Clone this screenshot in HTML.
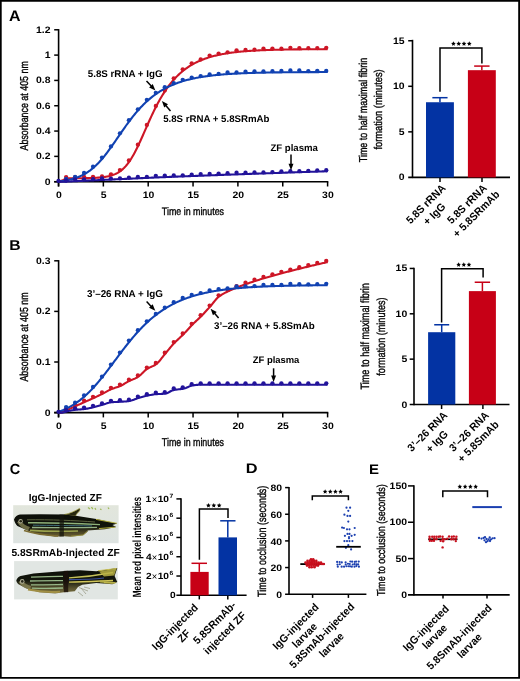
<!DOCTYPE html>
<html><head><meta charset="utf-8"><title>Figure</title>
<style>html,body{margin:0;padding:0;background:#fff;}svg{display:block;will-change:transform;}text{font-family:"Liberation Sans", sans-serif;text-rendering:geometricPrecision;}</style>
</head><body>
<svg width="520" height="681" viewBox="0 0 520 681">
<rect width="520" height="681" fill="#fff"/>
<text transform="translate(9.05,20.7) scale(1.046,1)" font-size="15.27" font-weight="bold" fill="#000" >A</text>
<text transform="translate(9.29,250.1) scale(1.104,1)" font-size="14.25" font-weight="bold" fill="#000" >B</text>
<text transform="translate(9.67,474) scale(0.992,1)" font-size="14.62" font-weight="bold" fill="#000" >C</text>
<text transform="translate(245.85,473.3) scale(1.182,1)" font-size="13.82" font-weight="bold" fill="#000" >D</text>
<text transform="translate(369.04,473.5) scale(1.074,1)" font-size="13.96" font-weight="bold" fill="#000" >E</text>
<line x1="58.6" y1="29.08" x2="58.6" y2="186.5" stroke="#000" stroke-width="1.6" stroke-linecap="butt"/>
<line x1="54.2" y1="181.7" x2="328.3" y2="181.7" stroke="#000" stroke-width="1.6" stroke-linecap="butt"/>
<line x1="54.2" y1="181.7" x2="58.6" y2="181.7" stroke="#000" stroke-width="1.5" stroke-linecap="butt"/>
<line x1="54.2" y1="156.38" x2="58.6" y2="156.38" stroke="#000" stroke-width="1.5" stroke-linecap="butt"/>
<line x1="54.2" y1="131.06" x2="58.6" y2="131.06" stroke="#000" stroke-width="1.5" stroke-linecap="butt"/>
<line x1="54.2" y1="105.74" x2="58.6" y2="105.74" stroke="#000" stroke-width="1.5" stroke-linecap="butt"/>
<line x1="54.2" y1="80.42" x2="58.6" y2="80.42" stroke="#000" stroke-width="1.5" stroke-linecap="butt"/>
<line x1="54.2" y1="55.1" x2="58.6" y2="55.1" stroke="#000" stroke-width="1.5" stroke-linecap="butt"/>
<line x1="54.2" y1="29.78" x2="58.6" y2="29.78" stroke="#000" stroke-width="1.5" stroke-linecap="butt"/>
<line x1="58.5" y1="181.7" x2="58.5" y2="186.5" stroke="#000" stroke-width="1.5" stroke-linecap="butt"/>
<line x1="103.35" y1="181.7" x2="103.35" y2="186.5" stroke="#000" stroke-width="1.5" stroke-linecap="butt"/>
<line x1="148.2" y1="181.7" x2="148.2" y2="186.5" stroke="#000" stroke-width="1.5" stroke-linecap="butt"/>
<line x1="193.05" y1="181.7" x2="193.05" y2="186.5" stroke="#000" stroke-width="1.5" stroke-linecap="butt"/>
<line x1="237.9" y1="181.7" x2="237.9" y2="186.5" stroke="#000" stroke-width="1.5" stroke-linecap="butt"/>
<line x1="282.75" y1="181.7" x2="282.75" y2="186.5" stroke="#000" stroke-width="1.5" stroke-linecap="butt"/>
<line x1="327.6" y1="181.7" x2="327.6" y2="186.5" stroke="#000" stroke-width="1.5" stroke-linecap="butt"/>
<path d="M58.50,181.70 L59.40,181.70 L60.29,181.48 L61.19,180.98 L62.09,180.53 L62.98,180.11 L63.88,179.71 L64.78,179.34 L65.68,178.98 L66.57,178.63 L67.47,178.29 L68.37,178.29 L69.26,178.29 L70.16,178.29 L71.06,178.28 L71.95,178.28 L72.85,178.28 L73.75,178.27 L74.65,178.27 L75.54,178.26 L76.44,178.26 L77.34,178.25 L78.23,178.25 L79.13,178.24 L80.03,178.23 L80.92,178.22 L81.82,178.21 L82.72,178.20 L83.62,178.19 L84.51,178.17 L85.41,178.16 L86.31,178.14 L87.20,178.12 L88.10,178.10 L89.00,178.08 L89.90,178.05 L90.79,178.03 L91.69,178.00 L92.59,177.96 L93.48,177.92 L94.38,177.88 L95.28,177.84 L96.17,177.79 L97.07,177.73 L97.97,177.67 L98.87,177.60 L99.76,177.53 L100.66,177.44 L101.56,177.35 L102.45,177.25 L103.35,177.14 L104.25,177.02 L105.14,176.88 L106.04,176.73 L106.94,176.57 L107.84,176.39 L108.73,176.19 L109.63,175.97 L110.53,175.73 L111.42,175.47 L112.32,175.18 L113.22,174.87 L114.11,174.52 L115.01,174.15 L115.91,173.73 L116.81,173.28 L117.70,172.80 L118.60,172.26 L119.50,171.68 L120.39,171.06 L121.29,170.38 L122.19,169.64 L123.08,168.85 L123.98,168.00 L124.88,167.08 L125.78,166.10 L126.67,165.05 L127.57,163.94 L128.47,162.75 L129.36,161.50 L130.26,160.17 L131.16,158.78 L132.05,157.31 L132.95,155.78 L133.85,154.18 L134.75,152.52 L135.64,150.80 L136.54,149.03 L137.44,147.20 L138.33,145.33 L139.23,143.42 L140.13,141.47 L141.02,139.49 L141.92,137.49 L142.82,135.47 L143.72,133.43 L144.61,131.39 L145.51,129.35 L146.41,127.31 L147.30,125.28 L148.20,123.26 L149.10,121.26 L149.99,119.28 L150.89,117.32 L151.79,115.39 L152.69,113.49 L153.58,111.63 L154.48,109.79 L155.38,108.00 L156.27,106.23 L157.17,104.51 L158.07,102.83 L158.96,101.19 L159.86,99.58 L160.76,98.02 L161.66,96.50 L162.55,95.01 L163.45,93.57 L164.35,92.17 L165.24,90.81 L166.14,89.48 L167.04,88.20 L167.93,86.95 L168.83,85.74 L169.73,84.56 L170.62,83.42 L171.52,82.32 L172.42,81.25 L173.32,80.21 L174.21,79.20 L175.11,78.23 L176.01,77.28 L176.90,76.37 L177.80,75.48 L178.70,74.62 L179.60,73.79 L180.49,72.99 L181.39,72.21 L182.29,71.46 L183.18,70.73 L184.08,70.02 L184.98,69.34 L185.87,68.68 L186.77,68.04 L187.67,67.42 L188.56,66.82 L189.46,66.24 L190.36,65.68 L191.26,65.14 L192.15,64.61 L193.05,64.10 L193.95,63.61 L194.84,63.14 L195.74,62.68 L196.64,62.23 L197.53,61.80 L198.43,61.39 L199.33,60.98 L200.23,60.59 L201.12,60.22 L202.02,59.85 L202.92,59.50 L203.81,59.16 L204.71,58.83 L205.61,58.51 L206.51,58.20 L207.40,57.90 L208.30,57.61 L209.20,57.33 L210.09,57.06 L210.99,56.80 L211.89,56.55 L212.78,56.30 L213.68,56.06 L214.58,55.83 L215.48,55.61 L216.37,55.40 L217.27,55.19 L218.17,54.99 L219.06,54.80 L219.96,54.61 L220.86,54.43 L221.75,54.25 L222.65,54.08 L223.55,53.92 L224.45,53.76 L225.34,53.60 L226.24,53.46 L227.14,53.31 L228.03,53.17 L228.93,53.04 L229.83,52.91 L230.72,52.78 L231.62,52.66 L232.52,52.54 L233.42,52.43 L234.31,52.32 L235.21,52.21 L236.11,52.11 L237.00,52.01 L237.90,51.91 L238.80,51.82 L239.69,51.73 L240.59,51.64 L241.49,51.56 L242.39,51.47 L243.28,51.40 L244.18,51.32 L245.08,51.25 L245.97,51.17 L246.87,51.10 L247.77,51.04 L248.66,50.97 L249.56,50.91 L250.46,50.85 L251.36,50.79 L252.25,50.73 L253.15,50.68 L254.05,50.63 L254.94,50.57 L255.84,50.53 L256.74,50.48 L257.63,50.43 L258.53,50.39 L259.43,50.34 L260.33,50.30 L261.22,50.26 L262.12,50.22 L263.02,50.18 L263.91,50.15 L264.81,50.11 L265.71,50.08 L266.60,50.04 L267.50,50.01 L268.40,49.98 L269.30,49.95 L270.19,49.92 L271.09,49.89 L271.99,49.86 L272.88,49.84 L273.78,49.81 L274.68,49.79 L275.57,49.76 L276.47,49.74 L277.37,49.72 L278.26,49.70 L279.16,49.68 L280.06,49.66 L280.96,49.64 L281.85,49.62 L282.75,49.60 L283.65,49.58 L284.54,49.56 L285.44,49.55 L286.34,49.53 L287.24,49.52 L288.13,49.50 L289.03,49.49 L289.93,49.47 L290.82,49.46 L291.72,49.45 L292.62,49.43 L293.51,49.42 L294.41,49.41 L295.31,49.40 L296.21,49.39 L297.10,49.38 L298.00,49.36 L298.90,49.35 L299.79,49.35 L300.69,49.34 L301.59,49.33 L302.48,49.32 L303.38,49.31 L304.28,49.30 L305.18,49.29 L306.07,49.29 L306.97,49.28 L307.87,49.27 L308.76,49.26 L309.66,49.26 L310.56,49.25 L311.45,49.24 L312.35,49.24 L313.25,49.23 L314.14,49.23 L315.04,49.22 L315.94,49.22 L316.84,49.21 L317.73,49.21 L318.63,49.20 L319.53,49.20 L320.42,49.19 L321.32,49.19 L322.22,49.18 L323.12,49.18 L324.01,49.17 L324.91,49.17 L325.81,49.17 L326.70,49.16 L327.60,49.16" stroke="#cd1626" stroke-width="2.1" fill="none" stroke-linejoin="round"/>
<circle cx="66.12" cy="177.08" r="2.15" fill="#cd1626"/>
<circle cx="75.09" cy="177.25" r="2.15" fill="#cd1626"/>
<circle cx="84.06" cy="176.82" r="2.15" fill="#cd1626"/>
<circle cx="93.03" cy="176.87" r="2.15" fill="#cd1626"/>
<circle cx="102.00" cy="176.48" r="2.15" fill="#cd1626"/>
<circle cx="110.97" cy="174.34" r="2.15" fill="#cd1626"/>
<circle cx="119.94" cy="170.08" r="2.15" fill="#cd1626"/>
<circle cx="128.91" cy="160.41" r="2.15" fill="#cd1626"/>
<circle cx="137.88" cy="144.74" r="2.15" fill="#cd1626"/>
<circle cx="146.85" cy="124.99" r="2.15" fill="#cd1626"/>
<circle cx="155.82" cy="105.99" r="2.15" fill="#cd1626"/>
<circle cx="164.79" cy="90.49" r="2.15" fill="#cd1626"/>
<circle cx="173.76" cy="78.28" r="2.15" fill="#cd1626"/>
<circle cx="182.73" cy="69.36" r="2.15" fill="#cd1626"/>
<circle cx="191.70" cy="63.36" r="2.15" fill="#cd1626"/>
<circle cx="200.67" cy="59.51" r="2.15" fill="#cd1626"/>
<circle cx="209.64" cy="55.61" r="2.15" fill="#cd1626"/>
<circle cx="218.61" cy="53.54" r="2.15" fill="#cd1626"/>
<circle cx="227.58" cy="52.37" r="2.15" fill="#cd1626"/>
<circle cx="236.55" cy="50.28" r="2.15" fill="#cd1626"/>
<circle cx="245.52" cy="50.01" r="2.15" fill="#cd1626"/>
<circle cx="254.49" cy="49.75" r="2.15" fill="#cd1626"/>
<circle cx="263.46" cy="48.59" r="2.15" fill="#cd1626"/>
<circle cx="272.43" cy="48.60" r="2.15" fill="#cd1626"/>
<circle cx="281.40" cy="48.74" r="2.15" fill="#cd1626"/>
<circle cx="290.37" cy="47.80" r="2.15" fill="#cd1626"/>
<circle cx="299.34" cy="48.07" r="2.15" fill="#cd1626"/>
<circle cx="308.31" cy="48.22" r="2.15" fill="#cd1626"/>
<circle cx="317.28" cy="48.08" r="2.15" fill="#cd1626"/>
<circle cx="326.25" cy="47.83" r="2.15" fill="#cd1626"/>
<path d="M58.50,181.57 L59.40,181.47 L60.29,181.35 L61.19,181.24 L62.09,181.11 L62.98,180.98 L63.88,180.84 L64.78,180.69 L65.68,180.53 L66.57,180.37 L67.47,180.19 L68.37,180.00 L69.26,179.80 L70.16,179.59 L71.06,179.37 L71.95,179.13 L72.85,178.88 L73.75,178.62 L74.65,178.34 L75.54,178.04 L76.44,177.73 L77.34,177.40 L78.23,177.06 L79.13,176.69 L80.03,176.31 L80.92,175.90 L81.82,175.48 L82.72,175.03 L83.62,174.56 L84.51,174.07 L85.41,173.55 L86.31,173.01 L87.20,172.44 L88.10,171.84 L89.00,171.22 L89.90,170.58 L90.79,169.90 L91.69,169.19 L92.59,168.46 L93.48,167.70 L94.38,166.91 L95.28,166.09 L96.17,165.23 L97.07,164.35 L97.97,163.44 L98.87,162.51 L99.76,161.54 L100.66,160.54 L101.56,159.52 L102.45,158.47 L103.35,157.39 L104.25,156.29 L105.14,155.17 L106.04,154.02 L106.94,152.85 L107.84,151.65 L108.73,150.44 L109.63,149.22 L110.53,147.97 L111.42,146.72 L112.32,145.44 L113.22,144.16 L114.11,142.87 L115.01,141.57 L115.91,140.27 L116.81,138.96 L117.70,137.65 L118.60,136.34 L119.50,135.03 L120.39,133.72 L121.29,132.42 L122.19,131.12 L123.08,129.83 L123.98,128.54 L124.88,127.27 L125.78,126.01 L126.67,124.76 L127.57,123.53 L128.47,122.31 L129.36,121.10 L130.26,119.91 L131.16,118.74 L132.05,117.58 L132.95,116.44 L133.85,115.32 L134.75,114.22 L135.64,113.14 L136.54,112.08 L137.44,111.04 L138.33,110.02 L139.23,109.02 L140.13,108.04 L141.02,107.08 L141.92,106.15 L142.82,105.23 L143.72,104.33 L144.61,103.45 L145.51,102.60 L146.41,101.76 L147.30,100.94 L148.20,100.15 L149.10,99.37 L149.99,98.61 L150.89,97.87 L151.79,97.15 L152.69,96.44 L153.58,95.76 L154.48,95.09 L155.38,94.44 L156.27,93.81 L157.17,93.19 L158.07,92.59 L158.96,92.01 L159.86,91.44 L160.76,90.89 L161.66,90.35 L162.55,89.82 L163.45,89.32 L164.35,88.82 L165.24,88.34 L166.14,87.87 L167.04,87.41 L167.93,86.97 L168.83,86.54 L169.73,86.12 L170.62,85.72 L171.52,85.32 L172.42,84.94 L173.32,84.56 L174.21,84.20 L175.11,83.85 L176.01,83.50 L176.90,83.17 L177.80,82.85 L178.70,82.53 L179.60,82.23 L180.49,81.93 L181.39,81.64 L182.29,81.36 L183.18,81.09 L184.08,80.83 L184.98,80.57 L185.87,80.32 L186.77,80.08 L187.67,79.85 L188.56,79.62 L189.46,79.40 L190.36,79.18 L191.26,78.97 L192.15,78.77 L193.05,78.57 L193.95,78.38 L194.84,78.19 L195.74,78.01 L196.64,77.84 L197.53,77.67 L198.43,77.50 L199.33,77.34 L200.23,77.19 L201.12,77.03 L202.02,76.89 L202.92,76.75 L203.81,76.61 L204.71,76.47 L205.61,76.34 L206.51,76.21 L207.40,76.09 L208.30,75.97 L209.20,75.86 L210.09,75.74 L210.99,75.63 L211.89,75.53 L212.78,75.42 L213.68,75.32 L214.58,75.23 L215.48,75.13 L216.37,75.04 L217.27,74.95 L218.17,74.86 L219.06,74.78 L219.96,74.70 L220.86,74.62 L221.75,74.54 L222.65,74.47 L223.55,74.39 L224.45,74.32 L225.34,74.26 L226.24,74.19 L227.14,74.12 L228.03,74.06 L228.93,74.00 L229.83,73.94 L230.72,73.88 L231.62,73.83 L232.52,73.78 L233.42,73.72 L234.31,73.67 L235.21,73.62 L236.11,73.57 L237.00,73.53 L237.90,73.48 L238.80,73.44 L239.69,73.40 L240.59,73.35 L241.49,73.31 L242.39,73.28 L243.28,73.24 L244.18,73.20 L245.08,73.16 L245.97,73.13 L246.87,73.10 L247.77,73.06 L248.66,73.03 L249.56,73.00 L250.46,72.97 L251.36,72.94 L252.25,72.91 L253.15,72.89 L254.05,72.86 L254.94,72.83 L255.84,72.81 L256.74,72.78 L257.63,72.76 L258.53,72.74 L259.43,72.72 L260.33,72.69 L261.22,72.67 L262.12,72.65 L263.02,72.63 L263.91,72.61 L264.81,72.60 L265.71,72.58 L266.60,72.56 L267.50,72.54 L268.40,72.53 L269.30,72.51 L270.19,72.49 L271.09,72.48 L271.99,72.46 L272.88,72.45 L273.78,72.44 L274.68,72.42 L275.57,72.41 L276.47,72.40 L277.37,72.38 L278.26,72.37 L279.16,72.36 L280.06,72.35 L280.96,72.34 L281.85,72.33 L282.75,72.32 L283.65,72.31 L284.54,72.30 L285.44,72.29 L286.34,72.28 L287.24,72.27 L288.13,72.26 L289.03,72.25 L289.93,72.24 L290.82,72.24 L291.72,72.23 L292.62,72.22 L293.51,72.21 L294.41,72.21 L295.31,72.20 L296.21,72.19 L297.10,72.19 L298.00,72.18 L298.90,72.17 L299.79,72.17 L300.69,72.16 L301.59,72.16 L302.48,72.15 L303.38,72.15 L304.28,72.14 L305.18,72.14 L306.07,72.13 L306.97,72.13 L307.87,72.12 L308.76,72.12 L309.66,72.11 L310.56,72.11 L311.45,72.11 L312.35,72.10 L313.25,72.10 L314.14,72.09 L315.04,72.09 L315.94,72.09 L316.84,72.08 L317.73,72.08 L318.63,72.08 L319.53,72.07 L320.42,72.07 L321.32,72.07 L322.22,72.07 L323.12,72.06 L324.01,72.06 L324.91,72.06 L325.81,72.06 L326.70,72.05 L327.60,72.05" stroke="#1142b2" stroke-width="2.1" fill="none" stroke-linejoin="round"/>
<circle cx="66.12" cy="178.86" r="2.15" fill="#1142b2"/>
<circle cx="75.09" cy="176.88" r="2.15" fill="#1142b2"/>
<circle cx="84.06" cy="172.89" r="2.15" fill="#1142b2"/>
<circle cx="93.03" cy="166.76" r="2.15" fill="#1142b2"/>
<circle cx="102.00" cy="157.56" r="2.15" fill="#1142b2"/>
<circle cx="110.97" cy="146.38" r="2.15" fill="#1142b2"/>
<circle cx="119.94" cy="133.34" r="2.15" fill="#1142b2"/>
<circle cx="128.91" cy="120.21" r="2.15" fill="#1142b2"/>
<circle cx="137.88" cy="109.30" r="2.15" fill="#1142b2"/>
<circle cx="146.85" cy="99.82" r="2.15" fill="#1142b2"/>
<circle cx="155.82" cy="92.78" r="2.15" fill="#1142b2"/>
<circle cx="164.79" cy="87.13" r="2.15" fill="#1142b2"/>
<circle cx="173.76" cy="83.24" r="2.15" fill="#1142b2"/>
<circle cx="182.73" cy="79.80" r="2.15" fill="#1142b2"/>
<circle cx="191.70" cy="77.53" r="2.15" fill="#1142b2"/>
<circle cx="200.67" cy="76.03" r="2.15" fill="#1142b2"/>
<circle cx="209.64" cy="74.41" r="2.15" fill="#1142b2"/>
<circle cx="218.61" cy="73.93" r="2.15" fill="#1142b2"/>
<circle cx="227.58" cy="72.47" r="2.15" fill="#1142b2"/>
<circle cx="236.55" cy="72.49" r="2.15" fill="#1142b2"/>
<circle cx="245.52" cy="71.77" r="2.15" fill="#1142b2"/>
<circle cx="254.49" cy="71.47" r="2.15" fill="#1142b2"/>
<circle cx="263.46" cy="71.46" r="2.15" fill="#1142b2"/>
<circle cx="272.43" cy="71.18" r="2.15" fill="#1142b2"/>
<circle cx="281.40" cy="70.95" r="2.15" fill="#1142b2"/>
<circle cx="290.37" cy="70.44" r="2.15" fill="#1142b2"/>
<circle cx="299.34" cy="70.46" r="2.15" fill="#1142b2"/>
<circle cx="308.31" cy="71.03" r="2.15" fill="#1142b2"/>
<circle cx="317.28" cy="70.81" r="2.15" fill="#1142b2"/>
<circle cx="326.25" cy="70.95" r="2.15" fill="#1142b2"/>
<path d="M58.50,181.70 L59.40,181.70 L60.29,181.70 L61.19,181.70 L62.09,181.70 L62.98,181.70 L63.88,181.70 L64.78,181.69 L65.68,181.65 L66.57,181.60 L67.47,181.56 L68.37,181.52 L69.26,181.48 L70.16,181.44 L71.06,181.39 L71.95,181.35 L72.85,181.31 L73.75,181.27 L74.65,181.22 L75.54,181.18 L76.44,181.14 L77.34,181.10 L78.23,181.06 L79.13,181.01 L80.03,180.97 L80.92,180.93 L81.82,180.89 L82.72,180.85 L83.62,180.80 L84.51,180.76 L85.41,180.72 L86.31,180.68 L87.20,180.64 L88.10,180.60 L89.00,180.55 L89.90,180.51 L90.79,180.47 L91.69,180.43 L92.59,180.39 L93.48,180.35 L94.38,180.31 L95.28,180.26 L96.17,180.22 L97.07,180.18 L97.97,180.14 L98.87,180.10 L99.76,180.06 L100.66,180.02 L101.56,179.98 L102.45,179.94 L103.35,179.89 L104.25,179.85 L105.14,179.81 L106.04,179.77 L106.94,179.73 L107.84,179.69 L108.73,179.65 L109.63,179.61 L110.53,179.57 L111.42,179.53 L112.32,179.48 L113.22,179.44 L114.11,179.40 L115.01,179.36 L115.91,179.32 L116.81,179.28 L117.70,179.24 L118.60,179.20 L119.50,179.16 L120.39,179.12 L121.29,179.08 L122.19,179.03 L123.08,178.99 L123.98,178.95 L124.88,178.91 L125.78,178.87 L126.67,178.83 L127.57,178.79 L128.47,178.75 L129.36,178.70 L130.26,178.66 L131.16,178.62 L132.05,178.58 L132.95,178.54 L133.85,178.50 L134.75,178.46 L135.64,178.41 L136.54,178.37 L137.44,178.33 L138.33,178.29 L139.23,178.25 L140.13,178.21 L141.02,178.16 L141.92,178.12 L142.82,178.08 L143.72,178.04 L144.61,178.00 L145.51,177.96 L146.41,177.92 L147.30,177.88 L148.20,177.84 L149.10,177.79 L149.99,177.75 L150.89,177.71 L151.79,177.67 L152.69,177.63 L153.58,177.59 L154.48,177.55 L155.38,177.51 L156.27,177.47 L157.17,177.43 L158.07,177.39 L158.96,177.36 L159.86,177.32 L160.76,177.28 L161.66,177.24 L162.55,177.20 L163.45,177.16 L164.35,177.12 L165.24,177.09 L166.14,177.05 L167.04,177.01 L167.93,176.98 L168.83,176.94 L169.73,176.90 L170.62,176.87 L171.52,176.83 L172.42,176.79 L173.32,176.76 L174.21,176.72 L175.11,176.69 L176.01,176.65 L176.90,176.62 L177.80,176.58 L178.70,176.54 L179.60,176.51 L180.49,176.47 L181.39,176.44 L182.29,176.41 L183.18,176.37 L184.08,176.34 L184.98,176.30 L185.87,176.27 L186.77,176.23 L187.67,176.20 L188.56,176.17 L189.46,176.13 L190.36,176.10 L191.26,176.06 L192.15,176.03 L193.05,176.00 L193.95,175.96 L194.84,175.93 L195.74,175.89 L196.64,175.86 L197.53,175.83 L198.43,175.79 L199.33,175.76 L200.23,175.73 L201.12,175.69 L202.02,175.66 L202.92,175.62 L203.81,175.59 L204.71,175.56 L205.61,175.52 L206.51,175.49 L207.40,175.45 L208.30,175.42 L209.20,175.39 L210.09,175.35 L210.99,175.32 L211.89,175.29 L212.78,175.25 L213.68,175.22 L214.58,175.19 L215.48,175.15 L216.37,175.12 L217.27,175.09 L218.17,175.05 L219.06,175.02 L219.96,174.99 L220.86,174.95 L221.75,174.92 L222.65,174.89 L223.55,174.85 L224.45,174.82 L225.34,174.79 L226.24,174.75 L227.14,174.72 L228.03,174.69 L228.93,174.66 L229.83,174.62 L230.72,174.59 L231.62,174.56 L232.52,174.52 L233.42,174.49 L234.31,174.46 L235.21,174.43 L236.11,174.39 L237.00,174.36 L237.90,174.33 L238.80,174.30 L239.69,174.26 L240.59,174.23 L241.49,174.20 L242.39,174.17 L243.28,174.14 L244.18,174.10 L245.08,174.07 L245.97,174.04 L246.87,174.01 L247.77,173.97 L248.66,173.94 L249.56,173.91 L250.46,173.88 L251.36,173.85 L252.25,173.81 L253.15,173.78 L254.05,173.75 L254.94,173.72 L255.84,173.69 L256.74,173.66 L257.63,173.62 L258.53,173.59 L259.43,173.56 L260.33,173.53 L261.22,173.50 L262.12,173.47 L263.02,173.43 L263.91,173.40 L264.81,173.37 L265.71,173.34 L266.60,173.31 L267.50,173.28 L268.40,173.24 L269.30,173.21 L270.19,173.18 L271.09,173.15 L271.99,173.12 L272.88,173.09 L273.78,173.06 L274.68,173.03 L275.57,172.99 L276.47,172.96 L277.37,172.93 L278.26,172.90 L279.16,172.87 L280.06,172.84 L280.96,172.81 L281.85,172.78 L282.75,172.75 L283.65,172.71 L284.54,172.68 L285.44,172.65 L286.34,172.62 L287.24,172.59 L288.13,172.56 L289.03,172.53 L289.93,172.50 L290.82,172.47 L291.72,172.44 L292.62,172.41 L293.51,172.38 L294.41,172.34 L295.31,172.31 L296.21,172.28 L297.10,172.25 L298.00,172.22 L298.90,172.19 L299.79,172.16 L300.69,172.13 L301.59,172.10 L302.48,172.07 L303.38,172.04 L304.28,172.01 L305.18,171.98 L306.07,171.95 L306.97,171.92 L307.87,171.89 L308.76,171.86 L309.66,171.83 L310.56,171.80 L311.45,171.77 L312.35,171.74 L313.25,171.71 L314.14,171.68 L315.04,171.65 L315.94,171.62 L316.84,171.58 L317.73,171.55 L318.63,171.52 L319.53,171.49 L320.42,171.46 L321.32,171.44 L322.22,171.41 L323.12,171.38 L324.01,171.35 L324.91,171.32 L325.81,171.29 L326.70,171.26 L327.60,171.23" stroke="#22139a" stroke-width="2.1" fill="none" stroke-linejoin="round"/>
<circle cx="58.50" cy="180.90" r="2.15" fill="#22139a"/>
<circle cx="66.12" cy="180.51" r="2.15" fill="#22139a"/>
<circle cx="75.09" cy="179.46" r="2.15" fill="#22139a"/>
<circle cx="84.06" cy="179.29" r="2.15" fill="#22139a"/>
<circle cx="93.03" cy="179.16" r="2.15" fill="#22139a"/>
<circle cx="102.00" cy="178.39" r="2.15" fill="#22139a"/>
<circle cx="110.97" cy="178.71" r="2.15" fill="#22139a"/>
<circle cx="119.94" cy="178.28" r="2.15" fill="#22139a"/>
<circle cx="128.91" cy="177.77" r="2.15" fill="#22139a"/>
<circle cx="137.88" cy="176.98" r="2.15" fill="#22139a"/>
<circle cx="146.85" cy="176.94" r="2.15" fill="#22139a"/>
<circle cx="155.82" cy="175.82" r="2.15" fill="#22139a"/>
<circle cx="164.79" cy="175.61" r="2.15" fill="#22139a"/>
<circle cx="173.76" cy="175.40" r="2.15" fill="#22139a"/>
<circle cx="182.73" cy="175.33" r="2.15" fill="#22139a"/>
<circle cx="191.70" cy="174.73" r="2.15" fill="#22139a"/>
<circle cx="200.67" cy="174.04" r="2.15" fill="#22139a"/>
<circle cx="209.64" cy="173.91" r="2.15" fill="#22139a"/>
<circle cx="218.61" cy="173.56" r="2.15" fill="#22139a"/>
<circle cx="227.58" cy="173.21" r="2.15" fill="#22139a"/>
<circle cx="236.55" cy="172.74" r="2.15" fill="#22139a"/>
<circle cx="245.52" cy="172.67" r="2.15" fill="#22139a"/>
<circle cx="254.49" cy="172.38" r="2.15" fill="#22139a"/>
<circle cx="263.46" cy="172.39" r="2.15" fill="#22139a"/>
<circle cx="272.43" cy="172.10" r="2.15" fill="#22139a"/>
<circle cx="281.40" cy="171.51" r="2.15" fill="#22139a"/>
<circle cx="290.37" cy="171.14" r="2.15" fill="#22139a"/>
<circle cx="299.34" cy="171.15" r="2.15" fill="#22139a"/>
<circle cx="308.31" cy="170.96" r="2.15" fill="#22139a"/>
<circle cx="317.28" cy="170.44" r="2.15" fill="#22139a"/>
<circle cx="326.25" cy="170.27" r="2.15" fill="#22139a"/>
<text transform="translate(50.45,184.65) scale(1.120,1)" text-anchor="end" font-size="9.30" font-weight="bold" fill="#000">0</text>
<text transform="translate(50.45,159.33) scale(1.120,1)" text-anchor="end" font-size="9.30" font-weight="bold" fill="#000">0.2</text>
<text transform="translate(50.45,134.01) scale(1.120,1)" text-anchor="end" font-size="9.30" font-weight="bold" fill="#000">0.4</text>
<text transform="translate(50.45,108.69) scale(1.120,1)" text-anchor="end" font-size="9.30" font-weight="bold" fill="#000">0.6</text>
<text transform="translate(50.45,83.37) scale(1.120,1)" text-anchor="end" font-size="9.30" font-weight="bold" fill="#000">0.8</text>
<text transform="translate(50.45,58.05) scale(1.120,1)" text-anchor="end" font-size="9.30" font-weight="bold" fill="#000">1</text>
<text transform="translate(50.45,32.73) scale(1.120,1)" text-anchor="end" font-size="9.30" font-weight="bold" fill="#000">1.2</text>
<text transform="translate(58.8,197.65) scale(1.120,1)" text-anchor="middle" font-size="9.30" font-weight="bold" fill="#000">0</text>
<text transform="translate(103.65,197.65) scale(1.120,1)" text-anchor="middle" font-size="9.30" font-weight="bold" fill="#000">5</text>
<text transform="translate(148.5,197.65) scale(1.120,1)" text-anchor="middle" font-size="9.30" font-weight="bold" fill="#000">10</text>
<text transform="translate(193.35,197.65) scale(1.120,1)" text-anchor="middle" font-size="9.30" font-weight="bold" fill="#000">15</text>
<text transform="translate(238.2,197.65) scale(1.120,1)" text-anchor="middle" font-size="9.30" font-weight="bold" fill="#000">20</text>
<text transform="translate(283.05,197.65) scale(1.120,1)" text-anchor="middle" font-size="9.30" font-weight="bold" fill="#000">25</text>
<text transform="translate(327.9,197.65) scale(1.120,1)" text-anchor="middle" font-size="9.30" font-weight="bold" fill="#000">30</text>
<text transform="translate(161.85,215.2) scale(0.824,1)" font-size="10.76" font-weight="normal" fill="#000" stroke="#000" stroke-width="0.35">Time in minutes</text>
<text transform="translate(27.7,150.47) rotate(-90) scale(0.776,1)" font-size="11.45" font-weight="normal" fill="#000" stroke="#000" stroke-width="0.35">Absorbance at 405 nm</text>
<text x="87.76" y="76.6" font-size="9.78" font-weight="bold" fill="#000">5.8S rRNA + IgG</text>
<line x1="146.5" y1="81" x2="151.27" y2="86.04" stroke="#000" stroke-width="1.5" stroke-linecap="butt"/>
<path d="M155.4,90.4 L149.12,87.4 L152.75,83.96 Z" fill="#000"/>
<text x="163.16" y="121.5" font-size="9.68" font-weight="bold" fill="#000">5.8S rRNA + 5.8SRmAb</text>
<line x1="170.5" y1="111" x2="165.81" y2="105.55" stroke="#000" stroke-width="1.5" stroke-linecap="butt"/>
<path d="M161.9,101 L168.03,104.3 L164.24,107.56 Z" fill="#000"/>
<text x="270.46" y="150.5" font-size="9.61" font-weight="bold" fill="#000">ZF plasma</text>
<line x1="291" y1="154.5" x2="291" y2="164.3" stroke="#000" stroke-width="1.5" stroke-linecap="butt"/>
<path d="M291,170.3 L288.5,163.8 L293.5,163.8 Z" fill="#000"/>
<line x1="58.6" y1="260.1" x2="58.6" y2="417.4" stroke="#000" stroke-width="1.6" stroke-linecap="butt"/>
<line x1="54.2" y1="412.6" x2="328.3" y2="412.6" stroke="#000" stroke-width="1.6" stroke-linecap="butt"/>
<line x1="54.2" y1="412.6" x2="58.6" y2="412.6" stroke="#000" stroke-width="1.5" stroke-linecap="butt"/>
<line x1="54.2" y1="362" x2="58.6" y2="362" stroke="#000" stroke-width="1.5" stroke-linecap="butt"/>
<line x1="54.2" y1="311.4" x2="58.6" y2="311.4" stroke="#000" stroke-width="1.5" stroke-linecap="butt"/>
<line x1="54.2" y1="260.8" x2="58.6" y2="260.8" stroke="#000" stroke-width="1.5" stroke-linecap="butt"/>
<line x1="58.5" y1="412.6" x2="58.5" y2="417.4" stroke="#000" stroke-width="1.5" stroke-linecap="butt"/>
<line x1="103.35" y1="412.6" x2="103.35" y2="417.4" stroke="#000" stroke-width="1.5" stroke-linecap="butt"/>
<line x1="148.2" y1="412.6" x2="148.2" y2="417.4" stroke="#000" stroke-width="1.5" stroke-linecap="butt"/>
<line x1="193.05" y1="412.6" x2="193.05" y2="417.4" stroke="#000" stroke-width="1.5" stroke-linecap="butt"/>
<line x1="237.9" y1="412.6" x2="237.9" y2="417.4" stroke="#000" stroke-width="1.5" stroke-linecap="butt"/>
<line x1="282.75" y1="412.6" x2="282.75" y2="417.4" stroke="#000" stroke-width="1.5" stroke-linecap="butt"/>
<line x1="327.6" y1="412.6" x2="327.6" y2="417.4" stroke="#000" stroke-width="1.5" stroke-linecap="butt"/>
<path d="M58.50,412.60 L59.40,412.60 L60.29,412.60 L61.19,412.60 L62.09,412.27 L62.98,411.86 L63.88,411.45 L64.78,411.05 L65.68,410.64 L66.57,410.23 L67.47,409.82 L68.37,409.41 L69.26,409.01 L70.16,408.60 L71.06,408.19 L71.95,407.78 L72.85,407.37 L73.75,406.96 L74.65,406.56 L75.54,406.15 L76.44,405.74 L77.34,405.33 L78.23,404.92 L79.13,404.50 L80.03,404.09 L80.92,403.68 L81.82,403.28 L82.72,402.87 L83.62,402.46 L84.51,402.06 L85.41,401.66 L86.31,401.27 L87.20,400.88 L88.10,400.49 L89.00,400.09 L89.90,399.70 L90.79,399.31 L91.69,398.91 L92.59,398.50 L93.48,398.09 L94.38,397.68 L95.28,397.26 L96.17,396.84 L97.07,396.41 L97.97,395.99 L98.87,395.55 L99.76,395.12 L100.66,394.68 L101.56,394.24 L102.45,393.79 L103.35,393.34 L104.25,392.86 L105.14,392.37 L106.04,391.87 L106.94,391.37 L107.84,390.87 L108.73,390.39 L109.63,389.93 L110.53,389.50 L111.42,389.11 L112.32,388.75 L113.22,388.43 L114.11,388.13 L115.01,387.85 L115.91,387.58 L116.81,387.30 L117.70,387.01 L118.60,386.70 L119.50,386.37 L120.39,385.99 L121.29,385.56 L122.19,385.08 L123.08,384.56 L123.98,384.02 L124.88,383.46 L125.78,382.91 L126.67,382.37 L127.57,381.85 L128.47,381.38 L129.36,380.94 L130.26,380.54 L131.16,380.15 L132.05,379.77 L132.95,379.39 L133.85,379.01 L134.75,378.61 L135.64,378.19 L136.54,377.73 L137.44,377.23 L138.33,376.67 L139.23,376.00 L140.13,375.24 L141.02,374.41 L141.92,373.53 L142.82,372.64 L143.72,371.75 L144.61,370.89 L145.51,370.09 L146.41,369.37 L147.30,368.75 L148.20,368.23 L149.10,367.76 L149.99,367.34 L150.89,366.95 L151.79,366.56 L152.69,366.16 L153.58,365.74 L154.48,365.27 L155.38,364.73 L156.27,364.11 L157.17,363.37 L158.07,362.50 L158.96,361.53 L159.86,360.47 L160.76,359.36 L161.66,358.22 L162.55,357.05 L163.45,355.90 L164.35,354.77 L165.24,353.69 L166.14,352.62 L167.04,351.54 L167.93,350.44 L168.83,349.33 L169.73,348.23 L170.62,347.15 L171.52,346.09 L172.42,345.06 L173.32,344.07 L174.21,343.13 L175.11,342.21 L176.01,341.33 L176.90,340.47 L177.80,339.62 L178.70,338.78 L179.60,337.94 L180.49,337.10 L181.39,336.25 L182.29,335.39 L183.18,334.50 L184.08,333.58 L184.98,332.64 L185.87,331.67 L186.77,330.68 L187.67,329.69 L188.56,328.69 L189.46,327.70 L190.36,326.73 L191.26,325.77 L192.15,324.84 L193.05,323.95 L193.95,323.07 L194.84,322.22 L195.74,321.37 L196.64,320.54 L197.53,319.70 L198.43,318.86 L199.33,318.01 L200.23,317.14 L201.12,316.24 L202.02,315.33 L202.92,314.40 L203.81,313.45 L204.71,312.50 L205.61,311.53 L206.51,310.56 L207.40,309.58 L208.30,308.60 L209.20,307.61 L210.09,306.63 L210.99,305.60 L211.89,304.52 L212.78,303.40 L213.68,302.27 L214.58,301.15 L215.48,300.06 L216.37,299.03 L217.27,298.08 L218.17,297.23 L219.06,296.51 L219.96,295.87 L220.86,295.27 L221.75,294.70 L222.65,294.15 L223.55,293.63 L224.45,293.13 L225.34,292.66 L226.24,292.20 L227.14,291.77 L228.03,291.34 L228.93,290.93 L229.83,290.54 L230.72,290.15 L231.62,289.77 L232.52,289.39 L233.42,289.02 L234.31,288.65 L235.21,288.28 L236.11,287.91 L237.00,287.53 L237.90,287.17 L238.80,286.80 L239.69,286.45 L240.59,286.10 L241.49,285.75 L242.39,285.41 L243.28,285.07 L244.18,284.74 L245.08,284.42 L245.97,284.09 L246.87,283.77 L247.77,283.46 L248.66,283.15 L249.56,282.84 L250.46,282.53 L251.36,282.23 L252.25,281.93 L253.15,281.64 L254.05,281.34 L254.94,281.05 L255.84,280.77 L256.74,280.48 L257.63,280.19 L258.53,279.91 L259.43,279.63 L260.33,279.35 L261.22,279.07 L262.12,278.80 L263.02,278.52 L263.91,278.25 L264.81,277.98 L265.71,277.71 L266.60,277.45 L267.50,277.19 L268.40,276.93 L269.30,276.67 L270.19,276.42 L271.09,276.16 L271.99,275.91 L272.88,275.66 L273.78,275.41 L274.68,275.17 L275.57,274.92 L276.47,274.68 L277.37,274.44 L278.26,274.20 L279.16,273.96 L280.06,273.72 L280.96,273.48 L281.85,273.25 L282.75,273.01 L283.65,272.78 L284.54,272.55 L285.44,272.32 L286.34,272.08 L287.24,271.85 L288.13,271.62 L289.03,271.39 L289.93,271.16 L290.82,270.93 L291.72,270.70 L292.62,270.47 L293.51,270.24 L294.41,270.02 L295.31,269.79 L296.21,269.56 L297.10,269.34 L298.00,269.11 L298.90,268.89 L299.79,268.66 L300.69,268.44 L301.59,268.22 L302.48,267.99 L303.38,267.77 L304.28,267.55 L305.18,267.33 L306.07,267.11 L306.97,266.89 L307.87,266.68 L308.76,266.46 L309.66,266.24 L310.56,266.03 L311.45,265.82 L312.35,265.60 L313.25,265.39 L314.14,265.18 L315.04,264.97 L315.94,264.76 L316.84,264.55 L317.73,264.34 L318.63,264.13 L319.53,263.92 L320.42,263.72 L321.32,263.51 L322.22,263.31 L323.12,263.10 L324.01,262.90 L324.91,262.70 L325.81,262.50 L326.70,262.30 L327.60,262.10" stroke="#cd1626" stroke-width="2.1" fill="none" stroke-linejoin="round"/>
<circle cx="66.12" cy="408.93" r="2.15" fill="#cd1626"/>
<circle cx="75.09" cy="404.85" r="2.15" fill="#cd1626"/>
<circle cx="84.06" cy="400.76" r="2.15" fill="#cd1626"/>
<circle cx="93.03" cy="396.80" r="2.15" fill="#cd1626"/>
<circle cx="102.00" cy="392.52" r="2.15" fill="#cd1626"/>
<circle cx="110.97" cy="387.80" r="2.15" fill="#cd1626"/>
<circle cx="119.94" cy="384.68" r="2.15" fill="#cd1626"/>
<circle cx="128.91" cy="379.66" r="2.15" fill="#cd1626"/>
<circle cx="137.88" cy="375.46" r="2.15" fill="#cd1626"/>
<circle cx="146.85" cy="367.55" r="2.15" fill="#cd1626"/>
<circle cx="155.82" cy="362.94" r="2.15" fill="#cd1626"/>
<circle cx="164.79" cy="352.72" r="2.15" fill="#cd1626"/>
<circle cx="173.76" cy="342.09" r="2.15" fill="#cd1626"/>
<circle cx="182.73" cy="333.45" r="2.15" fill="#cd1626"/>
<circle cx="191.70" cy="323.80" r="2.15" fill="#cd1626"/>
<circle cx="200.67" cy="315.19" r="2.15" fill="#cd1626"/>
<circle cx="209.64" cy="305.62" r="2.15" fill="#cd1626"/>
<circle cx="218.61" cy="295.35" r="2.15" fill="#cd1626"/>
<circle cx="227.58" cy="290.05" r="2.15" fill="#cd1626"/>
<circle cx="236.55" cy="286.22" r="2.15" fill="#cd1626"/>
<circle cx="245.52" cy="282.75" r="2.15" fill="#cd1626"/>
<circle cx="254.49" cy="279.70" r="2.15" fill="#cd1626"/>
<circle cx="263.46" cy="276.89" r="2.15" fill="#cd1626"/>
<circle cx="272.43" cy="274.29" r="2.15" fill="#cd1626"/>
<circle cx="281.40" cy="271.87" r="2.15" fill="#cd1626"/>
<circle cx="290.37" cy="269.55" r="2.15" fill="#cd1626"/>
<circle cx="299.34" cy="267.27" r="2.15" fill="#cd1626"/>
<circle cx="308.31" cy="265.07" r="2.15" fill="#cd1626"/>
<circle cx="317.28" cy="262.94" r="2.15" fill="#cd1626"/>
<circle cx="326.25" cy="260.90" r="2.15" fill="#cd1626"/>
<path d="M58.50,411.92 L59.40,411.59 L60.29,411.26 L61.19,410.91 L62.09,410.55 L62.98,410.18 L63.88,409.79 L64.78,409.39 L65.68,408.97 L66.57,408.54 L67.47,408.10 L68.37,407.64 L69.26,407.16 L70.16,406.67 L71.06,406.16 L71.95,405.64 L72.85,405.10 L73.75,404.54 L74.65,403.96 L75.54,403.36 L76.44,402.75 L77.34,402.12 L78.23,401.47 L79.13,400.80 L80.03,400.12 L80.92,399.41 L81.82,398.69 L82.72,397.94 L83.62,397.18 L84.51,396.39 L85.41,395.59 L86.31,394.77 L87.20,393.93 L88.10,393.07 L89.00,392.19 L89.90,391.29 L90.79,390.38 L91.69,389.44 L92.59,388.49 L93.48,387.52 L94.38,386.54 L95.28,385.53 L96.17,384.51 L97.07,383.48 L97.97,382.43 L98.87,381.36 L99.76,380.28 L100.66,379.19 L101.56,378.08 L102.45,376.96 L103.35,375.83 L104.25,374.69 L105.14,373.54 L106.04,372.38 L106.94,371.21 L107.84,370.04 L108.73,368.85 L109.63,367.67 L110.53,366.47 L111.42,365.28 L112.32,364.08 L113.22,362.87 L114.11,361.67 L115.01,360.46 L115.91,359.26 L116.81,358.06 L117.70,356.86 L118.60,355.66 L119.50,354.46 L120.39,353.27 L121.29,352.09 L122.19,350.91 L123.08,349.73 L123.98,348.57 L124.88,347.41 L125.78,346.26 L126.67,345.11 L127.57,343.98 L128.47,342.86 L129.36,341.75 L130.26,340.65 L131.16,339.56 L132.05,338.48 L132.95,337.42 L133.85,336.36 L134.75,335.33 L135.64,334.30 L136.54,333.29 L137.44,332.29 L138.33,331.30 L139.23,330.33 L140.13,329.38 L141.02,328.43 L141.92,327.51 L142.82,326.59 L143.72,325.70 L144.61,324.81 L145.51,323.94 L146.41,323.09 L147.30,322.25 L148.20,321.43 L149.10,320.62 L149.99,319.82 L150.89,319.04 L151.79,318.28 L152.69,317.53 L153.58,316.79 L154.48,316.07 L155.38,315.36 L156.27,314.66 L157.17,313.98 L158.07,313.32 L158.96,312.66 L159.86,312.02 L160.76,311.40 L161.66,310.78 L162.55,310.18 L163.45,309.59 L164.35,309.02 L165.24,308.45 L166.14,307.90 L167.04,307.36 L167.93,306.83 L168.83,306.32 L169.73,305.81 L170.62,305.32 L171.52,304.84 L172.42,304.36 L173.32,303.90 L174.21,303.45 L175.11,303.01 L176.01,302.58 L176.90,302.16 L177.80,301.75 L178.70,301.34 L179.60,300.95 L180.49,300.57 L181.39,300.19 L182.29,299.82 L183.18,299.47 L184.08,299.12 L184.98,298.77 L185.87,298.44 L186.77,298.12 L187.67,297.80 L188.56,297.49 L189.46,297.18 L190.36,296.89 L191.26,296.60 L192.15,296.31 L193.05,296.04 L193.95,295.77 L194.84,295.51 L195.74,295.25 L196.64,295.00 L197.53,294.75 L198.43,294.52 L199.33,294.28 L200.23,294.06 L201.12,293.83 L202.02,293.62 L202.92,293.41 L203.81,293.20 L204.71,293.00 L205.61,292.80 L206.51,292.61 L207.40,292.42 L208.30,292.24 L209.20,292.06 L210.09,291.89 L210.99,291.72 L211.89,291.55 L212.78,291.39 L213.68,291.23 L214.58,291.08 L215.48,290.93 L216.37,290.78 L217.27,290.64 L218.17,290.50 L219.06,290.36 L219.96,290.23 L220.86,290.10 L221.75,289.97 L222.65,289.85 L223.55,289.73 L224.45,289.61 L225.34,289.50 L226.24,289.39 L227.14,289.28 L228.03,289.17 L228.93,289.07 L229.83,288.96 L230.72,288.87 L231.62,288.77 L232.52,288.67 L233.42,288.58 L234.31,288.49 L235.21,288.41 L236.11,288.32 L237.00,288.24 L237.90,288.16 L238.80,288.08 L239.69,288.00 L240.59,287.92 L241.49,287.85 L242.39,287.78 L243.28,287.71 L244.18,287.64 L245.08,287.57 L245.97,287.51 L246.87,287.45 L247.77,287.38 L248.66,287.32 L249.56,287.27 L250.46,287.21 L251.36,287.15 L252.25,287.10 L253.15,287.04 L254.05,286.99 L254.94,286.94 L255.84,286.89 L256.74,286.84 L257.63,286.80 L258.53,286.75 L259.43,286.71 L260.33,286.66 L261.22,286.62 L262.12,286.58 L263.02,286.54 L263.91,286.50 L264.81,286.46 L265.71,286.42 L266.60,286.38 L267.50,286.35 L268.40,286.31 L269.30,286.28 L270.19,286.25 L271.09,286.21 L271.99,286.18 L272.88,286.15 L273.78,286.12 L274.68,286.09 L275.57,286.06 L276.47,286.04 L277.37,286.01 L278.26,285.98 L279.16,285.96 L280.06,285.93 L280.96,285.91 L281.85,285.88 L282.75,285.86 L283.65,285.83 L284.54,285.81 L285.44,285.79 L286.34,285.77 L287.24,285.75 L288.13,285.73 L289.03,285.71 L289.93,285.69 L290.82,285.67 L291.72,285.65 L292.62,285.63 L293.51,285.62 L294.41,285.60 L295.31,285.58 L296.21,285.57 L297.10,285.55 L298.00,285.54 L298.90,285.52 L299.79,285.51 L300.69,285.49 L301.59,285.48 L302.48,285.46 L303.38,285.45 L304.28,285.44 L305.18,285.42 L306.07,285.41 L306.97,285.40 L307.87,285.39 L308.76,285.38 L309.66,285.37 L310.56,285.35 L311.45,285.34 L312.35,285.33 L313.25,285.32 L314.14,285.31 L315.04,285.30 L315.94,285.29 L316.84,285.29 L317.73,285.28 L318.63,285.27 L319.53,285.26 L320.42,285.25 L321.32,285.24 L322.22,285.24 L323.12,285.23 L324.01,285.22 L324.91,285.21 L325.81,285.21 L326.70,285.20 L327.60,285.19" stroke="#1142b2" stroke-width="2.1" fill="none" stroke-linejoin="round"/>
<circle cx="66.12" cy="407.04" r="2.15" fill="#1142b2"/>
<circle cx="75.09" cy="402.64" r="2.15" fill="#1142b2"/>
<circle cx="84.06" cy="395.43" r="2.15" fill="#1142b2"/>
<circle cx="93.03" cy="386.93" r="2.15" fill="#1142b2"/>
<circle cx="102.00" cy="376.70" r="2.15" fill="#1142b2"/>
<circle cx="110.97" cy="364.61" r="2.15" fill="#1142b2"/>
<circle cx="119.94" cy="352.57" r="2.15" fill="#1142b2"/>
<circle cx="128.91" cy="340.57" r="2.15" fill="#1142b2"/>
<circle cx="137.88" cy="330.26" r="2.15" fill="#1142b2"/>
<circle cx="146.85" cy="321.37" r="2.15" fill="#1142b2"/>
<circle cx="155.82" cy="313.89" r="2.15" fill="#1142b2"/>
<circle cx="164.79" cy="307.74" r="2.15" fill="#1142b2"/>
<circle cx="173.76" cy="302.26" r="2.15" fill="#1142b2"/>
<circle cx="182.73" cy="297.91" r="2.15" fill="#1142b2"/>
<circle cx="191.70" cy="294.94" r="2.15" fill="#1142b2"/>
<circle cx="200.67" cy="293.05" r="2.15" fill="#1142b2"/>
<circle cx="209.64" cy="290.39" r="2.15" fill="#1142b2"/>
<circle cx="218.61" cy="289.08" r="2.15" fill="#1142b2"/>
<circle cx="227.58" cy="288.35" r="2.15" fill="#1142b2"/>
<circle cx="236.55" cy="286.50" r="2.15" fill="#1142b2"/>
<circle cx="245.52" cy="286.34" r="2.15" fill="#1142b2"/>
<circle cx="254.49" cy="286.12" r="2.15" fill="#1142b2"/>
<circle cx="263.46" cy="284.95" r="2.15" fill="#1142b2"/>
<circle cx="272.43" cy="284.92" r="2.15" fill="#1142b2"/>
<circle cx="281.40" cy="285.00" r="2.15" fill="#1142b2"/>
<circle cx="290.37" cy="284.01" r="2.15" fill="#1142b2"/>
<circle cx="299.34" cy="284.24" r="2.15" fill="#1142b2"/>
<circle cx="308.31" cy="284.33" r="2.15" fill="#1142b2"/>
<circle cx="317.28" cy="284.15" r="2.15" fill="#1142b2"/>
<circle cx="326.25" cy="283.87" r="2.15" fill="#1142b2"/>
<path d="M58.50,412.60 L59.40,412.60 L60.29,412.60 L61.19,412.60 L62.09,412.60 L62.98,412.46 L63.88,412.20 L64.78,411.95 L65.68,411.71 L66.57,411.47 L67.47,411.25 L68.37,411.05 L69.26,410.85 L70.16,410.66 L71.06,410.49 L71.95,410.33 L72.85,410.18 L73.75,410.04 L74.65,409.92 L75.54,409.81 L76.44,409.72 L77.34,409.64 L78.23,409.57 L79.13,409.50 L80.03,409.44 L80.92,409.38 L81.82,409.31 L82.72,409.23 L83.62,409.14 L84.51,409.04 L85.41,408.91 L86.31,408.77 L87.20,408.61 L88.10,408.44 L89.00,408.26 L89.90,408.07 L90.79,407.87 L91.69,407.67 L92.59,407.46 L93.48,407.26 L94.38,407.05 L95.28,406.82 L96.17,406.58 L97.07,406.33 L97.97,406.08 L98.87,405.82 L99.76,405.56 L100.66,405.30 L101.56,405.04 L102.45,404.79 L103.35,404.53 L104.25,404.24 L105.14,403.93 L106.04,403.62 L106.94,403.32 L107.84,403.04 L108.73,402.78 L109.63,402.55 L110.53,402.38 L111.42,402.26 L112.32,402.18 L113.22,402.12 L114.11,402.06 L115.01,402.01 L115.91,401.97 L116.81,401.93 L117.70,401.88 L118.60,401.84 L119.50,401.80 L120.39,401.75 L121.29,401.70 L122.19,401.65 L123.08,401.60 L123.98,401.56 L124.88,401.51 L125.78,401.45 L126.67,401.39 L127.57,401.31 L128.47,401.22 L129.36,401.07 L130.26,400.86 L131.16,400.61 L132.05,400.32 L132.95,399.99 L133.85,399.66 L134.75,399.31 L135.64,398.97 L136.54,398.65 L137.44,398.35 L138.33,398.08 L139.23,397.82 L140.13,397.55 L141.02,397.28 L141.92,397.02 L142.82,396.77 L143.72,396.52 L144.61,396.28 L145.51,396.05 L146.41,395.84 L147.30,395.65 L148.20,395.46 L149.10,395.27 L149.99,395.09 L150.89,394.91 L151.79,394.74 L152.69,394.59 L153.58,394.45 L154.48,394.33 L155.38,394.22 L156.27,394.14 L157.17,394.08 L158.07,394.03 L158.96,393.99 L159.86,393.96 L160.76,393.93 L161.66,393.89 L162.55,393.85 L163.45,393.80 L164.35,393.74 L165.24,393.66 L166.14,393.49 L167.04,393.17 L167.93,392.76 L168.83,392.27 L169.73,391.75 L170.62,391.24 L171.52,390.78 L172.42,390.39 L173.32,390.12 L174.21,389.93 L175.11,389.78 L176.01,389.64 L176.90,389.53 L177.80,389.42 L178.70,389.32 L179.60,389.22 L180.49,389.12 L181.39,389.00 L182.29,388.87 L183.18,388.71 L184.08,388.52 L184.98,388.25 L185.87,387.93 L186.77,387.56 L187.67,387.17 L188.56,386.77 L189.46,386.39 L190.36,386.05 L191.26,385.77 L192.15,385.56 L193.05,385.41 L193.95,385.25 L194.84,385.11 L195.74,384.99 L196.64,384.89 L197.53,384.83 L198.43,384.81 L199.33,384.81 L200.23,384.81 L201.12,384.81 L202.02,384.81 L202.92,384.81 L203.81,384.81 L204.71,384.81 L205.61,384.81 L206.51,384.81 L207.40,384.81 L208.30,384.81 L209.20,384.81 L210.09,384.81 L210.99,384.81 L211.89,384.81 L212.78,384.81 L213.68,384.81 L214.58,384.81 L215.48,384.81 L216.37,384.81 L217.27,384.81 L218.17,384.81 L219.06,384.81 L219.96,384.81 L220.86,384.81 L221.75,384.81 L222.65,384.81 L223.55,384.81 L224.45,384.81 L225.34,384.81 L226.24,384.81 L227.14,384.81 L228.03,384.81 L228.93,384.81 L229.83,384.81 L230.72,384.81 L231.62,384.81 L232.52,384.81 L233.42,384.81 L234.31,384.81 L235.21,384.81 L236.11,384.81 L237.00,384.81 L237.90,384.81 L238.80,384.81 L239.69,384.81 L240.59,384.81 L241.49,384.81 L242.39,384.81 L243.28,384.81 L244.18,384.81 L245.08,384.81 L245.97,384.81 L246.87,384.81 L247.77,384.81 L248.66,384.81 L249.56,384.81 L250.46,384.81 L251.36,384.81 L252.25,384.81 L253.15,384.81 L254.05,384.81 L254.94,384.81 L255.84,384.81 L256.74,384.81 L257.63,384.81 L258.53,384.81 L259.43,384.81 L260.33,384.81 L261.22,384.81 L262.12,384.81 L263.02,384.81 L263.91,384.81 L264.81,384.81 L265.71,384.81 L266.60,384.81 L267.50,384.81 L268.40,384.81 L269.30,384.81 L270.19,384.81 L271.09,384.81 L271.99,384.81 L272.88,384.81 L273.78,384.81 L274.68,384.81 L275.57,384.81 L276.47,384.81 L277.37,384.81 L278.26,384.81 L279.16,384.81 L280.06,384.81 L280.96,384.81 L281.85,384.81 L282.75,384.81 L283.65,384.81 L284.54,384.81 L285.44,384.81 L286.34,384.81 L287.24,384.81 L288.13,384.81 L289.03,384.81 L289.93,384.81 L290.82,384.81 L291.72,384.81 L292.62,384.81 L293.51,384.81 L294.41,384.81 L295.31,384.81 L296.21,384.81 L297.10,384.81 L298.00,384.81 L298.90,384.81 L299.79,384.81 L300.69,384.81 L301.59,384.81 L302.48,384.81 L303.38,384.81 L304.28,384.81 L305.18,384.81 L306.07,384.81 L306.97,384.81 L307.87,384.81 L308.76,384.81 L309.66,384.81 L310.56,384.81 L311.45,384.81 L312.35,384.81 L313.25,384.81 L314.14,384.81 L315.04,384.81 L315.94,384.81 L316.84,384.81 L317.73,384.81 L318.63,384.81 L319.53,384.81 L320.42,384.81 L321.32,384.81 L322.22,384.81 L323.12,384.81 L324.01,384.81 L324.91,384.81 L325.81,384.81 L326.70,384.81 L327.60,384.81" stroke="#22139a" stroke-width="2.1" fill="none" stroke-linejoin="round"/>
<circle cx="58.50" cy="411.80" r="2.15" fill="#22139a"/>
<circle cx="66.12" cy="410.09" r="2.15" fill="#22139a"/>
<circle cx="75.09" cy="408.36" r="2.15" fill="#22139a"/>
<circle cx="84.06" cy="407.59" r="2.15" fill="#22139a"/>
<circle cx="93.03" cy="405.86" r="2.15" fill="#22139a"/>
<circle cx="102.00" cy="403.42" r="2.15" fill="#22139a"/>
<circle cx="110.97" cy="400.81" r="2.15" fill="#22139a"/>
<circle cx="119.94" cy="400.27" r="2.15" fill="#22139a"/>
<circle cx="128.91" cy="399.65" r="2.15" fill="#22139a"/>
<circle cx="137.88" cy="396.71" r="2.15" fill="#22139a"/>
<circle cx="146.85" cy="394.24" r="2.15" fill="#22139a"/>
<circle cx="155.82" cy="392.68" r="2.15" fill="#22139a"/>
<circle cx="164.79" cy="392.20" r="2.15" fill="#22139a"/>
<circle cx="173.76" cy="388.52" r="2.15" fill="#22139a"/>
<circle cx="182.73" cy="387.29" r="2.15" fill="#22139a"/>
<circle cx="191.70" cy="384.16" r="2.15" fill="#22139a"/>
<circle cx="200.67" cy="383.31" r="2.15" fill="#22139a"/>
<circle cx="209.64" cy="383.31" r="2.15" fill="#22139a"/>
<circle cx="218.61" cy="383.31" r="2.15" fill="#22139a"/>
<circle cx="227.58" cy="383.31" r="2.15" fill="#22139a"/>
<circle cx="236.55" cy="383.31" r="2.15" fill="#22139a"/>
<circle cx="245.52" cy="383.31" r="2.15" fill="#22139a"/>
<circle cx="254.49" cy="383.31" r="2.15" fill="#22139a"/>
<circle cx="263.46" cy="383.31" r="2.15" fill="#22139a"/>
<circle cx="272.43" cy="383.31" r="2.15" fill="#22139a"/>
<circle cx="281.40" cy="383.31" r="2.15" fill="#22139a"/>
<circle cx="290.37" cy="383.31" r="2.15" fill="#22139a"/>
<circle cx="299.34" cy="383.31" r="2.15" fill="#22139a"/>
<circle cx="308.31" cy="383.31" r="2.15" fill="#22139a"/>
<circle cx="317.28" cy="383.31" r="2.15" fill="#22139a"/>
<circle cx="326.25" cy="383.31" r="2.15" fill="#22139a"/>
<text transform="translate(50.45,415.55) scale(1.120,1)" text-anchor="end" font-size="9.30" font-weight="bold" fill="#000">0</text>
<text transform="translate(50.45,364.95) scale(1.120,1)" text-anchor="end" font-size="9.30" font-weight="bold" fill="#000">0.1</text>
<text transform="translate(50.45,314.35) scale(1.120,1)" text-anchor="end" font-size="9.30" font-weight="bold" fill="#000">0.2</text>
<text transform="translate(50.45,263.75) scale(1.120,1)" text-anchor="end" font-size="9.30" font-weight="bold" fill="#000">0.3</text>
<text transform="translate(58.8,428.6) scale(1.120,1)" text-anchor="middle" font-size="9.30" font-weight="bold" fill="#000">0</text>
<text transform="translate(103.65,428.6) scale(1.120,1)" text-anchor="middle" font-size="9.30" font-weight="bold" fill="#000">5</text>
<text transform="translate(148.5,428.6) scale(1.120,1)" text-anchor="middle" font-size="9.30" font-weight="bold" fill="#000">10</text>
<text transform="translate(193.35,428.6) scale(1.120,1)" text-anchor="middle" font-size="9.30" font-weight="bold" fill="#000">15</text>
<text transform="translate(238.2,428.6) scale(1.120,1)" text-anchor="middle" font-size="9.30" font-weight="bold" fill="#000">20</text>
<text transform="translate(283.05,428.6) scale(1.120,1)" text-anchor="middle" font-size="9.30" font-weight="bold" fill="#000">25</text>
<text transform="translate(327.9,428.6) scale(1.120,1)" text-anchor="middle" font-size="9.30" font-weight="bold" fill="#000">30</text>
<text transform="translate(161.85,446.3) scale(0.784,1)" font-size="11.31" font-weight="normal" fill="#000" stroke="#000" stroke-width="0.35">Time in minutes</text>
<text transform="translate(27.8,381.57) rotate(-90) scale(0.766,1)" font-size="11.59" font-weight="normal" fill="#000" stroke="#000" stroke-width="0.35">Absorbance at 405 nm</text>
<text x="86.93" y="297.1" font-size="9.87" font-weight="bold" fill="#000">3’–26 RNA + IgG</text>
<line x1="146.6" y1="301.6" x2="151.18" y2="306.44" stroke="#000" stroke-width="1.5" stroke-linecap="butt"/>
<path d="M155.3,310.8 L149.02,307.79 L152.65,304.36 Z" fill="#000"/>
<text x="214.03" y="328.7" font-size="9.76" font-weight="bold" fill="#000">3’–26 RNA + 5.8SmAb</text>
<line x1="218.6" y1="318" x2="214.54" y2="313.33" stroke="#000" stroke-width="1.5" stroke-linecap="butt"/>
<path d="M210.6,308.8 L216.75,312.06 L212.98,315.35 Z" fill="#000"/>
<text x="252.77" y="363.3" font-size="9.43" font-weight="bold" fill="#000">ZF plasma</text>
<line x1="273.6" y1="368.3" x2="273.6" y2="376.1" stroke="#000" stroke-width="1.5" stroke-linecap="butt"/>
<path d="M273.6,382.1 L271.1,375.6 L276.1,375.6 Z" fill="#000"/>
<line x1="412.5" y1="39.8" x2="412.5" y2="178.1" stroke="#000" stroke-width="1.6" stroke-linecap="butt"/>
<line x1="408.2" y1="177.4" x2="510" y2="177.4" stroke="#000" stroke-width="1.6" stroke-linecap="butt"/>
<line x1="408.2" y1="131.85" x2="412.5" y2="131.85" stroke="#000" stroke-width="1.5" stroke-linecap="butt"/>
<line x1="408.2" y1="86.3" x2="412.5" y2="86.3" stroke="#000" stroke-width="1.5" stroke-linecap="butt"/>
<line x1="408.2" y1="40.75" x2="412.5" y2="40.75" stroke="#000" stroke-width="1.5" stroke-linecap="butt"/>
<line x1="440" y1="177.4" x2="440" y2="181.9" stroke="#000" stroke-width="1.5" stroke-linecap="butt"/>
<line x1="482" y1="177.4" x2="482" y2="181.9" stroke="#000" stroke-width="1.5" stroke-linecap="butt"/>
<rect x="426" y="102.24" width="27.9" height="75.16" fill="#0333a3"/>
<line x1="439.95" y1="102.24" x2="439.95" y2="97.69" stroke="#0333a3" stroke-width="1.5" stroke-linecap="butt"/>
<line x1="432.35" y1="97.69" x2="447.55" y2="97.69" stroke="#0333a3" stroke-width="1.5" stroke-linecap="butt"/>
<rect x="467.9" y="70.18" width="27.9" height="107.22" fill="#c70016"/>
<line x1="481.85" y1="70.18" x2="481.85" y2="66.08" stroke="#c70016" stroke-width="1.5" stroke-linecap="butt"/>
<line x1="474.15" y1="66.08" x2="489.55" y2="66.08" stroke="#c70016" stroke-width="1.5" stroke-linecap="butt"/>
<path d="M440,91.7 L440,48.1 L481.9,48.1 L481.9,63.6" stroke="#000" stroke-width="1.5" fill="none" stroke-linejoin="miter" />
<text transform="translate(404.6,180.4) scale(1.120,1)" text-anchor="end" font-size="9.30" font-weight="bold" fill="#000">0</text>
<text transform="translate(404.6,134.85) scale(1.120,1)" text-anchor="end" font-size="9.30" font-weight="bold" fill="#000">5</text>
<text transform="translate(404.6,89.3) scale(1.120,1)" text-anchor="end" font-size="9.30" font-weight="bold" fill="#000">10</text>
<text transform="translate(404.6,43.75) scale(1.120,1)" text-anchor="end" font-size="9.30" font-weight="bold" fill="#000">15</text>
<path d="M453.43,41.35 L454.10,42.87 L455.76,43.04 L454.52,44.16 L454.87,45.78 L453.43,44.95 L451.99,45.78 L452.33,44.16 L451.10,43.04 L452.75,42.87 Z" fill="#000"/>
<path d="M458.71,41.35 L459.39,42.87 L461.04,43.04 L459.80,44.16 L460.15,45.78 L458.71,44.95 L457.27,45.78 L457.62,44.16 L456.38,43.04 L458.03,42.87 Z" fill="#000"/>
<path d="M463.99,41.35 L464.67,42.87 L466.32,43.04 L465.08,44.16 L465.43,45.78 L463.99,44.95 L462.55,45.78 L462.90,44.16 L461.66,43.04 L463.31,42.87 Z" fill="#000"/>
<path d="M469.27,41.35 L469.95,42.87 L471.60,43.04 L470.37,44.16 L470.71,45.78 L469.27,44.95 L467.83,45.78 L468.18,44.16 L466.94,43.04 L468.60,42.87 Z" fill="#000"/>
<text transform="translate(366.6,162.25) rotate(-90) scale(0.785,1)" font-size="11.45" font-weight="normal" fill="#000" stroke="#000" stroke-width="0.35">Time to half maximal fibrin</text>
<text transform="translate(382.2,149.59) rotate(-90) scale(0.825,1)" font-size="11.31" font-weight="normal" fill="#000" stroke="#000" stroke-width="0.35">formation (minutes)</text>
<text transform="translate(425.7,204) rotate(-45) translate(-25.36,3.71) scale(0.960,1)" font-size="10.80" font-weight="bold" fill="#000">5.8S rRNA</text>
<text transform="translate(434.9,214.8) rotate(-45) translate(-13,2.62) scale(0.960,1)" font-size="10.80" font-weight="bold" fill="#000">+ IgG</text>
<text transform="translate(466.9,203.9) rotate(-45) translate(-25.36,3.71) scale(0.960,1)" font-size="10.80" font-weight="bold" fill="#000">5.8S rRNA</text>
<text transform="translate(475.9,213.7) rotate(-45) translate(-30.4,3.86) scale(0.960,1)" font-size="10.80" font-weight="bold" fill="#000">+ 5.8SRmAb</text>
<line x1="414" y1="267.7" x2="414" y2="405.2" stroke="#000" stroke-width="1.6" stroke-linecap="butt"/>
<line x1="409.7" y1="404.5" x2="509.5" y2="404.5" stroke="#000" stroke-width="1.6" stroke-linecap="butt"/>
<line x1="409.7" y1="359.15" x2="414" y2="359.15" stroke="#000" stroke-width="1.5" stroke-linecap="butt"/>
<line x1="409.7" y1="313.8" x2="414" y2="313.8" stroke="#000" stroke-width="1.5" stroke-linecap="butt"/>
<line x1="409.7" y1="268.45" x2="414" y2="268.45" stroke="#000" stroke-width="1.5" stroke-linecap="butt"/>
<line x1="441.6" y1="404.5" x2="441.6" y2="409" stroke="#000" stroke-width="1.5" stroke-linecap="butt"/>
<line x1="482.9" y1="404.5" x2="482.9" y2="409" stroke="#000" stroke-width="1.5" stroke-linecap="butt"/>
<rect x="428.1" y="332.21" width="27.2" height="72.29" fill="#0333a3"/>
<line x1="441.7" y1="332.21" x2="441.7" y2="324.77" stroke="#0333a3" stroke-width="1.5" stroke-linecap="butt"/>
<line x1="434.2" y1="324.77" x2="449.2" y2="324.77" stroke="#0333a3" stroke-width="1.5" stroke-linecap="butt"/>
<rect x="468.9" y="291.12" width="27" height="113.38" fill="#c70016"/>
<line x1="482.4" y1="291.12" x2="482.4" y2="282.24" stroke="#c70016" stroke-width="1.5" stroke-linecap="butt"/>
<line x1="474.7" y1="282.24" x2="490.1" y2="282.24" stroke="#c70016" stroke-width="1.5" stroke-linecap="butt"/>
<path d="M441.6,322.4 L441.6,268.8 L483.1,268.8 L483.1,277.6" stroke="#000" stroke-width="1.5" fill="none" stroke-linejoin="miter" />
<text transform="translate(407.2,407.5) scale(1.120,1)" text-anchor="end" font-size="9.30" font-weight="bold" fill="#000">0</text>
<text transform="translate(407.2,362.15) scale(1.120,1)" text-anchor="end" font-size="9.30" font-weight="bold" fill="#000">5</text>
<text transform="translate(407.2,316.8) scale(1.120,1)" text-anchor="end" font-size="9.30" font-weight="bold" fill="#000">10</text>
<text transform="translate(407.2,271.45) scale(1.120,1)" text-anchor="end" font-size="9.30" font-weight="bold" fill="#000">15</text>
<path d="M458.63,262.30 L459.30,263.82 L460.96,263.99 L459.72,265.11 L460.07,266.73 L458.63,265.90 L457.19,266.73 L457.53,265.11 L456.30,263.99 L457.95,263.82 Z" fill="#000"/>
<path d="M463.80,262.30 L464.48,263.82 L466.13,263.99 L464.89,265.11 L465.24,266.73 L463.80,265.90 L462.36,266.73 L462.71,265.11 L461.47,263.99 L463.12,263.82 Z" fill="#000"/>
<path d="M468.97,262.30 L469.65,263.82 L471.30,263.99 L470.07,265.11 L470.41,266.73 L468.97,265.90 L467.53,266.73 L467.88,265.11 L466.64,263.99 L468.30,263.82 Z" fill="#000"/>
<text transform="translate(369.2,389.56) rotate(-90) scale(0.763,1)" font-size="12.00" font-weight="normal" fill="#000" stroke="#000" stroke-width="0.35">Time to half maximal fibrin</text>
<text transform="translate(384.8,375.69) rotate(-90) scale(0.785,1)" font-size="11.59" font-weight="normal" fill="#000" stroke="#000" stroke-width="0.35">formation (minutes)</text>
<text transform="translate(427.3,431.4) rotate(-45) translate(-25.62,3.7) scale(0.960,1)" font-size="10.80" font-weight="bold" fill="#000">3’–26 RNA</text>
<text transform="translate(437.6,442.2) rotate(-45) translate(-13,2.62) scale(0.960,1)" font-size="10.80" font-weight="bold" fill="#000">+ IgG</text>
<text transform="translate(468.9,431.5) rotate(-45) translate(-25.62,3.7) scale(0.960,1)" font-size="10.80" font-weight="bold" fill="#000">3’–26 RNA</text>
<text transform="translate(478,441.3) rotate(-45) translate(-26.66,3.86) scale(0.960,1)" font-size="10.80" font-weight="bold" fill="#000">+ 5.8SmAb</text>
<g id="photos">
<defs><linearGradient id="bg1" x1="0" y1="0" x2="0" y2="1"><stop offset="0" stop-color="#e2e6dc"/><stop offset="1" stop-color="#dde3e1"/></linearGradient><linearGradient id="fb1" x1="0" y1="0" x2="0" y2="1"><stop offset="0" stop-color="#0c0e07"/><stop offset="0.55" stop-color="#12150c"/><stop offset="0.8" stop-color="#4a4424"/><stop offset="1" stop-color="#6d6234"/></linearGradient><linearGradient id="fb2" x1="0" y1="0" x2="0" y2="1"><stop offset="0" stop-color="#0c0e07"/><stop offset="0.5" stop-color="#14170d"/><stop offset="0.8" stop-color="#5a5430"/><stop offset="1" stop-color="#7a7040"/></linearGradient><filter id="soft" x="-5%" y="-5%" width="110%" height="110%" color-interpolation-filters="sRGB"><feGaussianBlur stdDeviation="0.8"/></filter></defs>
<rect x="13.2" y="505.2" width="105.4" height="38.0" fill="url(#bg1)"/>
<rect x="14.1" y="561.1" width="103.7" height="38.3" fill="#e1e6e3"/>
<g>
<path d="M88,507.5 l2,1.5 M91.5,507 l1.3,2.2 M95,508 l0.8,1.8 M100,509 l1.5,0.6 M108,507.5 l1,1.5" stroke="#8fae3a" stroke-width="1.3" opacity="0.8"/>
<path d="M64,514.6 C70,513.5 75,511 79.5,508.4 C80.5,509 80,510.5 78.5,512 C77,513.5 76,514.8 75.5,516 Z" fill="#26270f" stroke="#9d9a3c" stroke-width="0.7"/>
<path d="M14.0,519.5 C15,516.5 17.5,515 20,514.6 L40,514.2 L64,514.5 L75.8,515.8 L96.3,519.1 L117.3,523.4 L112.4,525 L116.2,527.1 L104.9,529.3 L87.7,530.4 L87.7,531.4 L83.4,535.2 L70.5,536.8 L64,536.3 L55,536.8 L33.5,533 L17.4,526 C15.5,524 14.3,521.5 14.0,519.5 Z" fill="url(#fb1)"/>
<path d="M17,522 C19,526 23,529 28,530.5 L30,527 C26,526 23,524 21,521 Z" fill="#77744a" opacity="0.9"/>
<path d="M27,519.8 C50,519.5 75,520.5 95,522" stroke="#5d6340" stroke-width="1.0" fill="none"/>
<path d="M28,522.8 C50,522.6 75,523.4 100,524.6" stroke="#8fb27a" stroke-width="1.4" fill="none"/>
<path d="M33,525.2 C50,525.4 70,525.6 92,525.9" stroke="#3d6a78" stroke-width="1.0" fill="none"/>
<path d="M32,527.5 C50,527.8 72,527.6 97,527.3" stroke="#94b286" stroke-width="1.3" fill="none"/>
<path d="M30,530.4 C45,531.4 60,531.6 78,531" stroke="#9aa24c" stroke-width="1.6" fill="none"/>
<path d="M24,530.5 C34,533.6 46,535.4 58,536" stroke="#7c6c32" stroke-width="1.6" fill="none"/>
<path d="M96,519.4 L117,523.3 M99,528.6 L115.5,527.1" stroke="#b8b23c" stroke-width="0.9" fill="none"/>
<path d="M71,536.2 L83,535 L87.5,531" stroke="#9a963c" stroke-width="0.8" fill="none"/>
<rect x="59.5" y="514.5" width="4.4" height="22" fill="#14140c" opacity="0.75"/>
<circle cx="20.6" cy="521.2" r="2.2" fill="#b5b49a"/><circle cx="20.7" cy="521.2" r="1.3" fill="#262614"/>
<path d="M16.3,580.3 C17.5,577.5 19,576.5 20.6,576.1 L33.5,573.5 L55.1,571.8 L68,570.8 L80.1,570.2 L96.3,571.3 L117.3,568.1 L114.6,576.1 L117.3,582.1 L112.4,584.2 L96.3,583.1 L82.3,584.8 L78,586.9 L74.8,591.2 L64,592.3 L55.1,593.4 L38.9,592.3 L26,588.2 L18.5,584.2 C17,583 16.4,581.6 16.3,580.3 Z" fill="url(#fb2)"/>
<path d="M18.5,582 C21,586 25,588.5 30,589.5 L31,586 C27,585 24,583 22,580 Z" fill="#7f7c52" opacity="0.9"/>
<path d="M31,577.2 C45,576.6 55,576.3 63,576.4 M30,581 C45,580.6 55,580.5 63,580.6 M31,584.8 C45,584.8 55,584.6 63,584.5 M32,588.1 C45,588.5 55,588.3 63,588" stroke="#98b888" stroke-width="1.3" fill="none"/>
<path d="M69,577.8 C85,577 100,575 113,572.5" stroke="#c6c25a" stroke-width="1.3" fill="none"/>
<path d="M69,579.6 C85,579.5 95,579 104,578" stroke="#3a4f9a" stroke-width="1.1" fill="none"/>
<path d="M69,582.1 C85,582 100,581 113,580.5" stroke="#d0c65a" stroke-width="1.4" fill="none"/>
<path d="M99,571.6 L116.6,568.6 L114.2,575.6 L104,576.5 Z M100,580.6 L116.8,582.2 L112.4,583.8 L100,582.6 Z" fill="#b9b244" opacity="0.85"/>
<path d="M98,570.8 L116.5,568.5 M104,582.8 L115.5,583" stroke="#c9c052" stroke-width="1.1" fill="none"/>
<path d="M28,589.6 C38,591.6 50,592.4 60,591.7" stroke="#a08f45" stroke-width="2.0" fill="none"/>
<rect x="63.8" y="570.8" width="4.4" height="21.4" fill="#1a0f0a" opacity="0.8"/>
<circle cx="22.2" cy="581.4" r="2.3" fill="#b8b79e"/><circle cx="22.3" cy="581.4" r="1.35" fill="#28281a"/>
<path d="M79,587.5 L88,591 M81,588 L86,594 M84,587 L90,588.5 M78,592 L83,596" stroke="#8c8c72" stroke-width="0.8" opacity="0.8"/>
</g>
</g>
<text x="28.67" y="500.6" font-size="10.06" font-weight="bold" fill="#000">IgG-Injected ZF</text>
<text x="11.44" y="556.3" font-size="10.21" font-weight="bold" fill="#000">5.8SRmAb-Injected ZF</text>
<line x1="181" y1="498.2" x2="181" y2="596" stroke="#000" stroke-width="1.6" stroke-linecap="butt"/>
<line x1="176.4" y1="595.3" x2="246.6" y2="595.3" stroke="#000" stroke-width="1.6" stroke-linecap="butt"/>
<line x1="176.4" y1="576.02" x2="181" y2="576.02" stroke="#000" stroke-width="1.5" stroke-linecap="butt"/>
<line x1="176.4" y1="556.74" x2="181" y2="556.74" stroke="#000" stroke-width="1.5" stroke-linecap="butt"/>
<line x1="176.4" y1="537.46" x2="181" y2="537.46" stroke="#000" stroke-width="1.5" stroke-linecap="butt"/>
<line x1="176.4" y1="518.18" x2="181" y2="518.18" stroke="#000" stroke-width="1.5" stroke-linecap="butt"/>
<line x1="176.4" y1="498.9" x2="181" y2="498.9" stroke="#000" stroke-width="1.5" stroke-linecap="butt"/>
<line x1="199.3" y1="595.3" x2="199.3" y2="599.4" stroke="#000" stroke-width="1.5" stroke-linecap="butt"/>
<line x1="227.8" y1="595.3" x2="227.8" y2="599.4" stroke="#000" stroke-width="1.5" stroke-linecap="butt"/>
<rect x="190.4" y="571.9" width="18.3" height="23.4" fill="#c70016"/>
<line x1="199.3" y1="571.9" x2="199.3" y2="563.3" stroke="#c70016" stroke-width="1.5" stroke-linecap="butt"/>
<line x1="191.5" y1="563.3" x2="207" y2="563.3" stroke="#c70016" stroke-width="1.5" stroke-linecap="butt"/>
<rect x="218.5" y="537.4" width="18.5" height="57.9" fill="#0333a3"/>
<line x1="227.8" y1="537.4" x2="227.8" y2="520.8" stroke="#0333a3" stroke-width="1.5" stroke-linecap="butt"/>
<line x1="220.2" y1="520.8" x2="235.5" y2="520.8" stroke="#0333a3" stroke-width="1.5" stroke-linecap="butt"/>
<path d="M199.4,559.7 L199.4,508.9 L228,508.9 L228,518" stroke="#000" stroke-width="1.5" fill="none" stroke-linejoin="miter" />
<path d="M208.43,503.10 L209.10,504.62 L210.76,504.79 L209.52,505.91 L209.87,507.53 L208.43,506.70 L206.99,507.53 L207.33,505.91 L206.10,504.79 L207.75,504.62 Z" fill="#000"/>
<path d="M213.80,503.10 L214.48,504.62 L216.13,504.79 L214.89,505.91 L215.24,507.53 L213.80,506.70 L212.36,507.53 L212.71,505.91 L211.47,504.79 L213.12,504.62 Z" fill="#000"/>
<path d="M219.17,503.10 L219.85,504.62 L221.50,504.79 L220.27,505.91 L220.61,507.53 L219.17,506.70 L217.73,507.53 L218.08,505.91 L216.84,504.79 L218.50,504.62 Z" fill="#000"/>
<text transform="translate(145.61,502) scale(1.130,1)" font-size="9.00" font-weight="bold" fill="#000">1</text>
<text transform="translate(151.69,503.19) scale(0.913,1)" font-size="10.34" font-weight="normal" fill="#000">×</text>
<text transform="translate(157.71,502) scale(1.130,1)" font-size="9.00" font-weight="bold" fill="#000">10</text>
<text transform="translate(169.56,497.55) scale(1.100,1)" font-size="6.10" font-weight="bold" fill="#000">7</text>
<text transform="translate(145.92,521.28) scale(1.130,1)" font-size="9.00" font-weight="bold" fill="#000">8</text>
<text transform="translate(151.69,522.47) scale(0.913,1)" font-size="10.34" font-weight="normal" fill="#000">×</text>
<text transform="translate(157.71,521.28) scale(1.130,1)" font-size="9.00" font-weight="bold" fill="#000">10</text>
<text transform="translate(169.6,516.83) scale(1.100,1)" font-size="6.10" font-weight="bold" fill="#000">6</text>
<text transform="translate(145.87,540.56) scale(1.130,1)" font-size="9.00" font-weight="bold" fill="#000">6</text>
<text transform="translate(151.69,541.75) scale(0.913,1)" font-size="10.34" font-weight="normal" fill="#000">×</text>
<text transform="translate(157.71,540.56) scale(1.130,1)" font-size="9.00" font-weight="bold" fill="#000">10</text>
<text transform="translate(169.6,536.11) scale(1.100,1)" font-size="6.10" font-weight="bold" fill="#000">6</text>
<text transform="translate(146.1,559.84) scale(1.130,1)" font-size="9.00" font-weight="bold" fill="#000">4</text>
<text transform="translate(151.69,561.03) scale(0.913,1)" font-size="10.34" font-weight="normal" fill="#000">×</text>
<text transform="translate(157.71,559.84) scale(1.130,1)" font-size="9.00" font-weight="bold" fill="#000">10</text>
<text transform="translate(169.6,555.39) scale(1.100,1)" font-size="6.10" font-weight="bold" fill="#000">6</text>
<text transform="translate(145.89,579.12) scale(1.130,1)" font-size="9.00" font-weight="bold" fill="#000">2</text>
<text transform="translate(151.69,580.31) scale(0.913,1)" font-size="10.34" font-weight="normal" fill="#000">×</text>
<text transform="translate(157.71,579.12) scale(1.130,1)" font-size="9.00" font-weight="bold" fill="#000">10</text>
<text transform="translate(169.6,574.67) scale(1.100,1)" font-size="6.10" font-weight="bold" fill="#000">6</text>
<text transform="translate(175.7,598.4) scale(1.130,1)" text-anchor="end" font-size="9.00" font-weight="bold" fill="#000">0</text>
<text transform="translate(140.8,597.31) rotate(-90) scale(0.696,1)" font-size="11.86" font-weight="bold" fill="#000" >Mean red pixel intensities</text>
<text transform="translate(175.6,627.5) rotate(-45) translate(-29.96,2.77) scale(0.960,1)" font-size="10.80" font-weight="bold" fill="#000">IgG-injected</text>
<text transform="translate(183.9,636) rotate(-45) translate(-6.3,3.71) scale(0.960,1)" font-size="10.80" font-weight="bold" fill="#000">ZF</text>
<text transform="translate(214.4,622.6) rotate(-45) translate(-27.6,3.86) scale(0.960,1)" font-size="10.80" font-weight="bold" fill="#000">5.8SRmAb-</text>
<text transform="translate(225.6,633.5) rotate(-45) translate(-27.54,2.79) scale(0.960,1)" font-size="10.80" font-weight="bold" fill="#000">injected ZF</text>
<line x1="289" y1="486.9" x2="289" y2="594.9" stroke="#000" stroke-width="1.6" stroke-linecap="butt"/>
<line x1="285.1" y1="594.2" x2="366.4" y2="594.2" stroke="#000" stroke-width="1.6" stroke-linecap="butt"/>
<line x1="285.1" y1="567.55" x2="289" y2="567.55" stroke="#000" stroke-width="1.5" stroke-linecap="butt"/>
<line x1="285.1" y1="540.9" x2="289" y2="540.9" stroke="#000" stroke-width="1.5" stroke-linecap="butt"/>
<line x1="285.1" y1="514.25" x2="289" y2="514.25" stroke="#000" stroke-width="1.5" stroke-linecap="butt"/>
<line x1="285.1" y1="487.6" x2="289" y2="487.6" stroke="#000" stroke-width="1.5" stroke-linecap="butt"/>
<line x1="312.6" y1="594.2" x2="312.6" y2="597.9" stroke="#000" stroke-width="1.5" stroke-linecap="butt"/>
<line x1="348.4" y1="594.2" x2="348.4" y2="597.9" stroke="#000" stroke-width="1.5" stroke-linecap="butt"/>
<text transform="translate(282.1,597.8) scale(1.120,1)" text-anchor="end" font-size="9.30" font-weight="bold" fill="#000">0</text>
<text transform="translate(282.1,571.15) scale(1.120,1)" text-anchor="end" font-size="9.30" font-weight="bold" fill="#000">20</text>
<text transform="translate(282.1,544.5) scale(1.120,1)" text-anchor="end" font-size="9.30" font-weight="bold" fill="#000">40</text>
<text transform="translate(282.1,517.85) scale(1.120,1)" text-anchor="end" font-size="9.30" font-weight="bold" fill="#000">60</text>
<text transform="translate(282.1,491.2) scale(1.120,1)" text-anchor="end" font-size="9.30" font-weight="bold" fill="#000">80</text>
<text transform="translate(265.8,596.95) rotate(-90) scale(0.756,1)" font-size="11.86" font-weight="normal" fill="#000" stroke="#000" stroke-width="0.35">Time to occlusion (seconds)</text>
<path d="M312.3,500.3 L312.3,495.9 L348.4,495.9 L348.4,500.3" stroke="#000" stroke-width="1.5" fill="none" stroke-linejoin="miter" />
<path d="M325.13,489.20 L325.80,490.72 L327.46,490.89 L326.22,492.01 L326.57,493.63 L325.13,492.80 L323.69,493.63 L324.03,492.01 L322.80,490.89 L324.45,490.72 Z" fill="#000"/>
<path d="M330.28,489.20 L330.95,490.72 L332.61,490.89 L331.37,492.01 L331.72,493.63 L330.28,492.80 L328.84,493.63 L329.18,492.01 L327.95,490.89 L329.60,490.72 Z" fill="#000"/>
<path d="M335.42,489.20 L336.10,490.72 L337.75,490.89 L336.52,492.01 L336.86,493.63 L335.42,492.80 L333.98,493.63 L334.33,492.01 L333.09,490.89 L334.75,490.72 Z" fill="#000"/>
<path d="M340.57,489.20 L341.25,490.72 L342.90,490.89 L341.67,492.01 L342.01,493.63 L340.57,492.80 L339.13,493.63 L339.48,492.01 L338.24,490.89 L339.90,490.72 Z" fill="#000"/>
<line x1="300.3" y1="564.1" x2="324.6" y2="564.1" stroke="#000" stroke-width="1.8" stroke-linecap="butt"/>
<circle cx="311" cy="559.3" r="1.3" fill="#c8101e"/>
<circle cx="313.2" cy="559.3" r="1.3" fill="#c8101e"/>
<circle cx="307.5" cy="560.9" r="1.3" fill="#c8101e"/>
<circle cx="309.7" cy="560.9" r="1.3" fill="#c8101e"/>
<circle cx="311.9" cy="560.9" r="1.3" fill="#c8101e"/>
<circle cx="314.1" cy="560.9" r="1.3" fill="#c8101e"/>
<circle cx="316.3" cy="560.9" r="1.3" fill="#c8101e"/>
<circle cx="305.5" cy="562.5" r="1.3" fill="#c8101e"/>
<circle cx="307.7" cy="562.5" r="1.3" fill="#c8101e"/>
<circle cx="309.9" cy="562.5" r="1.3" fill="#c8101e"/>
<circle cx="312.1" cy="562.5" r="1.3" fill="#c8101e"/>
<circle cx="314.3" cy="562.5" r="1.3" fill="#c8101e"/>
<circle cx="316.5" cy="562.5" r="1.3" fill="#c8101e"/>
<circle cx="318.7" cy="562.5" r="1.3" fill="#c8101e"/>
<circle cx="321" cy="562.5" r="1.3" fill="#c8101e"/>
<circle cx="306.5" cy="564.0" r="1.3" fill="#c8101e"/>
<circle cx="308.7" cy="564.0" r="1.3" fill="#c8101e"/>
<circle cx="310.9" cy="564.0" r="1.3" fill="#c8101e"/>
<circle cx="313.1" cy="564.0" r="1.3" fill="#c8101e"/>
<circle cx="315.3" cy="564.0" r="1.3" fill="#c8101e"/>
<circle cx="317.5" cy="564.0" r="1.3" fill="#c8101e"/>
<circle cx="319.7" cy="564.0" r="1.3" fill="#c8101e"/>
<circle cx="322" cy="564.0" r="1.3" fill="#c8101e"/>
<circle cx="323.8" cy="564.0" r="1.3" fill="#c8101e"/>
<circle cx="307" cy="565.6" r="1.3" fill="#c8101e"/>
<circle cx="309.2" cy="565.6" r="1.3" fill="#c8101e"/>
<circle cx="311.4" cy="565.6" r="1.3" fill="#c8101e"/>
<circle cx="313.6" cy="565.6" r="1.3" fill="#c8101e"/>
<circle cx="315.8" cy="565.6" r="1.3" fill="#c8101e"/>
<circle cx="318" cy="565.6" r="1.3" fill="#c8101e"/>
<circle cx="309.5" cy="567.2" r="1.3" fill="#c8101e"/>
<circle cx="311.7" cy="567.2" r="1.3" fill="#c8101e"/>
<circle cx="314.5" cy="567.2" r="1.3" fill="#c8101e"/>
<circle cx="346.50" cy="507.70" r="1.1" fill="#1c40b0"/>
<circle cx="350.10" cy="507.70" r="1.1" fill="#1c40b0"/>
<circle cx="348.30" cy="510.80" r="1.1" fill="#1c40b0"/>
<circle cx="344.40" cy="514.70" r="1.1" fill="#1c40b0"/>
<circle cx="347.50" cy="515.90" r="1.1" fill="#1c40b0"/>
<circle cx="350.10" cy="515.90" r="1.1" fill="#1c40b0"/>
<circle cx="348.30" cy="521.60" r="1.1" fill="#1c40b0"/>
<circle cx="342.10" cy="527.60" r="1.1" fill="#1c40b0"/>
<circle cx="343.90" cy="528.00" r="1.1" fill="#1c40b0"/>
<circle cx="347.00" cy="529.30" r="1.1" fill="#1c40b0"/>
<circle cx="349.50" cy="529.30" r="1.1" fill="#1c40b0"/>
<circle cx="354.70" cy="528.00" r="1.1" fill="#1c40b0"/>
<circle cx="344.90" cy="535.80" r="1.1" fill="#1c40b0"/>
<circle cx="347.50" cy="533.90" r="1.1" fill="#1c40b0"/>
<circle cx="349.50" cy="533.90" r="1.1" fill="#1c40b0"/>
<circle cx="351.60" cy="535.80" r="1.1" fill="#1c40b0"/>
<circle cx="354.70" cy="534.80" r="1.1" fill="#1c40b0"/>
<circle cx="349.00" cy="537.00" r="1.1" fill="#1c40b0"/>
<circle cx="349.00" cy="538.30" r="1.1" fill="#1c40b0"/>
<circle cx="344.40" cy="541.10" r="1.1" fill="#1c40b0"/>
<circle cx="347.00" cy="541.10" r="1.1" fill="#1c40b0"/>
<circle cx="349.50" cy="541.10" r="1.1" fill="#1c40b0"/>
<circle cx="352.40" cy="541.10" r="1.1" fill="#1c40b0"/>
<circle cx="348.30" cy="545.20" r="1.1" fill="#1c40b0"/>
<circle cx="345.90" cy="547.80" r="1.1" fill="#1c40b0"/>
<circle cx="351.10" cy="549.40" r="1.1" fill="#1c40b0"/>
<circle cx="337.12" cy="561.96" r="1.1" fill="#1c40b0"/>
<circle cx="339.62" cy="561.99" r="1.1" fill="#1c40b0"/>
<circle cx="341.79" cy="562.44" r="1.1" fill="#1c40b0"/>
<circle cx="345.61" cy="562.39" r="1.1" fill="#1c40b0"/>
<circle cx="350.33" cy="561.52" r="1.1" fill="#1c40b0"/>
<circle cx="352.12" cy="561.66" r="1.1" fill="#1c40b0"/>
<circle cx="354.72" cy="561.84" r="1.1" fill="#1c40b0"/>
<circle cx="356.11" cy="561.58" r="1.1" fill="#1c40b0"/>
<circle cx="358.70" cy="561.56" r="1.1" fill="#1c40b0"/>
<circle cx="337.50" cy="564.55" r="1.1" fill="#1c40b0"/>
<circle cx="339.80" cy="564.25" r="1.1" fill="#1c40b0"/>
<circle cx="345.74" cy="564.50" r="1.1" fill="#1c40b0"/>
<circle cx="347.96" cy="563.77" r="1.1" fill="#1c40b0"/>
<circle cx="349.77" cy="563.99" r="1.1" fill="#1c40b0"/>
<circle cx="352.71" cy="564.49" r="1.1" fill="#1c40b0"/>
<circle cx="354.52" cy="564.06" r="1.1" fill="#1c40b0"/>
<circle cx="356.44" cy="564.43" r="1.1" fill="#1c40b0"/>
<circle cx="358.12" cy="564.47" r="1.1" fill="#1c40b0"/>
<circle cx="337.80" cy="566.63" r="1.1" fill="#1c40b0"/>
<circle cx="341.66" cy="566.71" r="1.1" fill="#1c40b0"/>
<circle cx="344.05" cy="566.71" r="1.1" fill="#1c40b0"/>
<circle cx="346.46" cy="566.23" r="1.1" fill="#1c40b0"/>
<circle cx="348.55" cy="566.23" r="1.1" fill="#1c40b0"/>
<circle cx="350.07" cy="566.36" r="1.1" fill="#1c40b0"/>
<circle cx="351.82" cy="566.66" r="1.1" fill="#1c40b0"/>
<circle cx="354.52" cy="566.64" r="1.1" fill="#1c40b0"/>
<circle cx="356.37" cy="566.07" r="1.1" fill="#1c40b0"/>
<circle cx="358.93" cy="566.63" r="1.1" fill="#1c40b0"/>
<line x1="336.2" y1="546.8" x2="360.8" y2="546.8" stroke="#000" stroke-width="1.8" stroke-linecap="butt"/>
<text transform="translate(296.3,627.1) rotate(-45) translate(-29.96,2.77) scale(0.960,1)" font-size="10.80" font-weight="bold" fill="#000">IgG-injected</text>
<text transform="translate(304.6,635) rotate(-45) translate(-15.18,3.86) scale(0.960,1)" font-size="10.80" font-weight="bold" fill="#000">larvae</text>
<text transform="translate(322.3,636.3) rotate(-45) translate(-43.31,2.79) scale(0.960,1)" font-size="10.80" font-weight="bold" fill="#000">5.8SmAb-injected</text>
<text transform="translate(331.4,644.6) rotate(-45) translate(-15.18,3.86) scale(0.960,1)" font-size="10.80" font-weight="bold" fill="#000">larvae</text>
<line x1="413.9" y1="485.2" x2="413.9" y2="595.6" stroke="#000" stroke-width="1.6" stroke-linecap="butt"/>
<line x1="408" y1="594.9" x2="509.7" y2="594.9" stroke="#000" stroke-width="1.6" stroke-linecap="butt"/>
<line x1="408" y1="558.57" x2="413.9" y2="558.57" stroke="#000" stroke-width="1.5" stroke-linecap="butt"/>
<line x1="408" y1="522.24" x2="413.9" y2="522.24" stroke="#000" stroke-width="1.5" stroke-linecap="butt"/>
<line x1="408" y1="485.91" x2="413.9" y2="485.91" stroke="#000" stroke-width="1.5" stroke-linecap="butt"/>
<line x1="443" y1="594.9" x2="443" y2="598.5" stroke="#000" stroke-width="1.5" stroke-linecap="butt"/>
<line x1="487" y1="594.9" x2="487" y2="598.5" stroke="#000" stroke-width="1.5" stroke-linecap="butt"/>
<text transform="translate(407,598) scale(1.120,1)" text-anchor="end" font-size="9.30" font-weight="bold" fill="#000">0</text>
<text transform="translate(407,561.67) scale(1.120,1)" text-anchor="end" font-size="9.30" font-weight="bold" fill="#000">50</text>
<text transform="translate(407,525.34) scale(1.120,1)" text-anchor="end" font-size="9.30" font-weight="bold" fill="#000">100</text>
<text transform="translate(407,489.01) scale(1.120,1)" text-anchor="end" font-size="9.30" font-weight="bold" fill="#000">150</text>
<text transform="translate(384.7,596.05) rotate(-90) scale(0.788,1)" font-size="11.45" font-weight="normal" fill="#000" stroke="#000" stroke-width="0.35">Time to occlusion (seconds)</text>
<path d="M442.8,497.3 L442.8,491 L487.5,491 L487.5,497.3" stroke="#000" stroke-width="1.5" fill="none" stroke-linejoin="miter" />
<path d="M459.83,484.30 L460.50,485.82 L462.16,485.99 L460.92,487.11 L461.27,488.73 L459.83,487.90 L458.39,488.73 L458.73,487.11 L457.50,485.99 L459.15,485.82 Z" fill="#000"/>
<path d="M465.11,484.30 L465.79,485.82 L467.44,485.99 L466.20,487.11 L466.55,488.73 L465.11,487.90 L463.67,488.73 L464.02,487.11 L462.78,485.99 L464.43,485.82 Z" fill="#000"/>
<path d="M470.39,484.30 L471.07,485.82 L472.72,485.99 L471.48,487.11 L471.83,488.73 L470.39,487.90 L468.95,488.73 L469.30,487.11 L468.06,485.99 L469.71,485.82 Z" fill="#000"/>
<path d="M475.67,484.30 L476.35,485.82 L478.00,485.99 L476.77,487.11 L477.11,488.73 L475.67,487.90 L474.23,488.73 L474.58,487.11 L473.34,485.99 L475.00,485.82 Z" fill="#000"/>
<line x1="472.3" y1="507.1" x2="501.9" y2="507.1" stroke="#1a3fb0" stroke-width="2.0" stroke-linecap="butt"/>
<line x1="428.2" y1="539.3" x2="457.5" y2="539.3" stroke="#000" stroke-width="1.6" stroke-linecap="butt"/>
<circle cx="429.54" cy="536.70" r="1.2" fill="#c8101e"/>
<circle cx="429.63" cy="538.65" r="1.2" fill="#c8101e"/>
<circle cx="429.84" cy="540.81" r="1.2" fill="#c8101e"/>
<circle cx="432.20" cy="536.78" r="1.2" fill="#c8101e"/>
<circle cx="431.84" cy="540.72" r="1.2" fill="#c8101e"/>
<circle cx="434.27" cy="536.82" r="1.2" fill="#c8101e"/>
<circle cx="434.07" cy="538.65" r="1.2" fill="#c8101e"/>
<circle cx="433.99" cy="540.84" r="1.2" fill="#c8101e"/>
<circle cx="436.47" cy="536.78" r="1.2" fill="#c8101e"/>
<circle cx="436.48" cy="539.17" r="1.2" fill="#c8101e"/>
<circle cx="438.60" cy="536.76" r="1.2" fill="#c8101e"/>
<circle cx="440.14" cy="536.57" r="1.2" fill="#c8101e"/>
<circle cx="440.63" cy="540.84" r="1.2" fill="#c8101e"/>
<circle cx="442.59" cy="536.68" r="1.2" fill="#c8101e"/>
<circle cx="442.78" cy="539.32" r="1.2" fill="#c8101e"/>
<circle cx="443.13" cy="541.29" r="1.2" fill="#c8101e"/>
<circle cx="444.56" cy="539.29" r="1.2" fill="#c8101e"/>
<circle cx="447.31" cy="538.77" r="1.2" fill="#c8101e"/>
<circle cx="449.08" cy="536.45" r="1.2" fill="#c8101e"/>
<circle cx="451.80" cy="536.73" r="1.2" fill="#c8101e"/>
<circle cx="451.29" cy="539.22" r="1.2" fill="#c8101e"/>
<circle cx="453.81" cy="536.44" r="1.2" fill="#c8101e"/>
<circle cx="453.53" cy="539.30" r="1.2" fill="#c8101e"/>
<circle cx="456.40" cy="536.65" r="1.2" fill="#c8101e"/>
<circle cx="456.00" cy="538.63" r="1.2" fill="#c8101e"/>
<circle cx="455.81" cy="541.09" r="1.2" fill="#c8101e"/>
<circle cx="442.6" cy="547.4" r="1.2" fill="#c8101e"/>
<circle cx="479" cy="538" r="1.15" fill="#1c40b0"/>
<circle cx="481.5" cy="538.6" r="1.15" fill="#1c40b0"/>
<circle cx="483.6" cy="538" r="1.15" fill="#1c40b0"/>
<circle cx="485" cy="537.2" r="1.15" fill="#1c40b0"/>
<circle cx="486.5" cy="539" r="1.15" fill="#1c40b0"/>
<circle cx="487.5" cy="541.2" r="1.15" fill="#1c40b0"/>
<circle cx="488.6" cy="539.5" r="1.15" fill="#1c40b0"/>
<circle cx="489.7" cy="537.5" r="1.15" fill="#1c40b0"/>
<circle cx="491" cy="539.3" r="1.15" fill="#1c40b0"/>
<circle cx="492.6" cy="538.3" r="1.15" fill="#1c40b0"/>
<circle cx="494.5" cy="538.2" r="1.15" fill="#1c40b0"/>
<circle cx="486" cy="542.2" r="1.15" fill="#1c40b0"/>
<circle cx="484.5" cy="540.3" r="1.15" fill="#1c40b0"/>
<circle cx="490" cy="541" r="1.15" fill="#1c40b0"/>
<text transform="translate(426.5,628.7) rotate(-45) translate(-29.96,2.77) scale(0.960,1)" font-size="10.80" font-weight="bold" fill="#000">IgG-injected</text>
<text transform="translate(434.7,636.4) rotate(-45) translate(-15.18,3.86) scale(0.960,1)" font-size="10.80" font-weight="bold" fill="#000">larvae</text>
<text transform="translate(459.7,637.7) rotate(-45) translate(-43.31,2.79) scale(0.960,1)" font-size="10.80" font-weight="bold" fill="#000">5.8SmAb-injected</text>
<text transform="translate(469.4,645.4) rotate(-45) translate(-15.18,3.86) scale(0.960,1)" font-size="10.80" font-weight="bold" fill="#000">larvae</text>
<path d="M0,0 H520 V678.8 H0 Z M1.7,1.7 V676.9 H518.2 V1.7 Z" fill="#000" fill-rule="evenodd"/>
</svg>
</body></html>
